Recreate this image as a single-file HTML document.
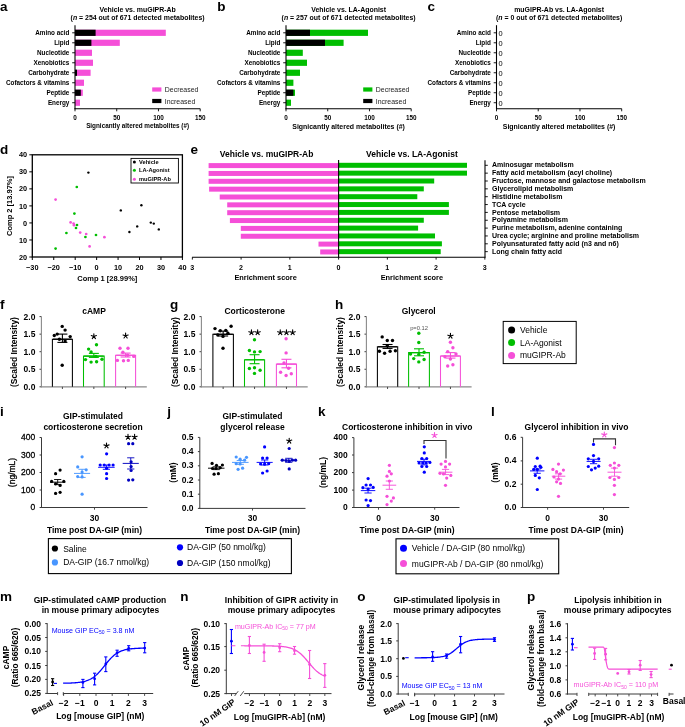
<!DOCTYPE html>
<html><head><meta charset="utf-8"><style>
html,body{margin:0;padding:0;background:#fff;}
body{width:685px;height:727px;overflow:hidden;}
svg{display:block;font-family:"Liberation Sans", sans-serif;filter:blur(0.35px);}
</style></head><body>
<svg width="685" height="727" viewBox="0 0 685 727">
<rect x="0" y="0" width="685" height="727" fill="#fff"/>
<text x="0.00" y="10.80" font-size="13.5" font-weight="bold">a</text>
<text x="137.60" y="11.80" font-size="6.95" font-weight="bold" text-anchor="middle" fill="#000" >Vehicle vs. muGIPR-Ab</text>
<text x="137.60" y="20.00" font-size="6.95" font-weight="bold" text-anchor="middle" fill="#000" >(<tspan font-style="italic">n</tspan> = 254 out of 671 detected metabolites)</text>
<text x="69.40" y="35.09" font-size="6.35" font-weight="bold" text-anchor="end" fill="#000" >Amino acid</text>
<line x1="72.20" y1="32.80" x2="75.00" y2="32.80" stroke="#000" stroke-width="0.9" />
<rect x="75.00" y="29.70" width="90.80" height="6.20" fill="#f54fd8" stroke="none" stroke-width="0"/>
<rect x="75.00" y="29.70" width="20.60" height="6.20" fill="#000" stroke="none" stroke-width="0"/>
<text x="69.40" y="45.08" font-size="6.35" font-weight="bold" text-anchor="end" fill="#000" >Lipid</text>
<line x1="72.20" y1="42.79" x2="75.00" y2="42.79" stroke="#000" stroke-width="0.9" />
<rect x="75.00" y="39.69" width="44.80" height="6.20" fill="#f54fd8" stroke="none" stroke-width="0"/>
<rect x="75.00" y="39.69" width="16.40" height="6.20" fill="#000" stroke="none" stroke-width="0"/>
<text x="69.40" y="55.07" font-size="6.35" font-weight="bold" text-anchor="end" fill="#000" >Nucleotide</text>
<line x1="72.20" y1="52.78" x2="75.00" y2="52.78" stroke="#000" stroke-width="0.9" />
<rect x="75.00" y="49.68" width="17.00" height="6.20" fill="#f54fd8" stroke="none" stroke-width="0"/>
<text x="69.40" y="65.06" font-size="6.35" font-weight="bold" text-anchor="end" fill="#000" >Xenobiotics</text>
<line x1="72.20" y1="62.77" x2="75.00" y2="62.77" stroke="#000" stroke-width="0.9" />
<rect x="75.00" y="59.67" width="18.00" height="6.20" fill="#f54fd8" stroke="none" stroke-width="0"/>
<text x="69.40" y="75.05" font-size="6.35" font-weight="bold" text-anchor="end" fill="#000" >Carbohydrate</text>
<line x1="72.20" y1="72.76" x2="75.00" y2="72.76" stroke="#000" stroke-width="0.9" />
<rect x="75.00" y="69.66" width="15.60" height="6.20" fill="#f54fd8" stroke="none" stroke-width="0"/>
<rect x="75.00" y="69.66" width="2.00" height="6.20" fill="#000" stroke="none" stroke-width="0"/>
<text x="69.40" y="85.04" font-size="6.35" font-weight="bold" text-anchor="end" fill="#000" >Cofactors &amp; vitamins</text>
<line x1="72.20" y1="82.75" x2="75.00" y2="82.75" stroke="#000" stroke-width="0.9" />
<rect x="75.00" y="79.65" width="9.00" height="6.20" fill="#f54fd8" stroke="none" stroke-width="0"/>
<text x="69.40" y="95.03" font-size="6.35" font-weight="bold" text-anchor="end" fill="#000" >Peptide</text>
<line x1="72.20" y1="92.74" x2="75.00" y2="92.74" stroke="#000" stroke-width="0.9" />
<rect x="75.00" y="89.64" width="7.80" height="6.20" fill="#f54fd8" stroke="none" stroke-width="0"/>
<rect x="75.00" y="89.64" width="5.80" height="6.20" fill="#000" stroke="none" stroke-width="0"/>
<text x="69.40" y="105.02" font-size="6.35" font-weight="bold" text-anchor="end" fill="#000" >Energy</text>
<line x1="72.20" y1="102.73" x2="75.00" y2="102.73" stroke="#000" stroke-width="0.9" />
<rect x="75.00" y="99.63" width="5.00" height="6.20" fill="#f54fd8" stroke="none" stroke-width="0"/>
<line x1="75.00" y1="25.20" x2="75.00" y2="109.20" stroke="#000" stroke-width="1.1" />
<line x1="74.50" y1="108.70" x2="200.20" y2="108.70" stroke="#000" stroke-width="1.1" />
<line x1="75.00" y1="108.70" x2="75.00" y2="111.30" stroke="#000" stroke-width="0.9" />
<text x="75.00" y="119.69" font-size="6.35" font-weight="bold" text-anchor="middle" fill="#000" >0</text>
<line x1="116.73" y1="108.70" x2="116.73" y2="111.30" stroke="#000" stroke-width="0.9" />
<text x="116.73" y="119.69" font-size="6.35" font-weight="bold" text-anchor="middle" fill="#000" >50</text>
<line x1="158.47" y1="108.70" x2="158.47" y2="111.30" stroke="#000" stroke-width="0.9" />
<text x="158.47" y="119.69" font-size="6.35" font-weight="bold" text-anchor="middle" fill="#000" >100</text>
<line x1="200.20" y1="108.70" x2="200.20" y2="111.30" stroke="#000" stroke-width="0.9" />
<text x="200.20" y="119.69" font-size="6.35" font-weight="bold" text-anchor="middle" fill="#000" >150</text>
<text x="137.60" y="128.29" font-size="6.35" font-weight="bold" text-anchor="middle" fill="#000" >Signicantly altered metabolites (#)</text>
<rect x="152.20" y="87.40" width="9.20" height="4.20" fill="#f54fd8" stroke="none" stroke-width="0"/>
<text x="164.80" y="92.10" font-size="6.95" font-weight="normal" text-anchor="start" fill="#222" >Decreased</text>
<rect x="152.20" y="98.90" width="9.20" height="4.20" fill="#000" stroke="none" stroke-width="0"/>
<text x="164.80" y="103.60" font-size="6.95" font-weight="normal" text-anchor="start" fill="#222" >Increased</text>
<text x="217.20" y="10.80" font-size="13.5" font-weight="bold">b</text>
<text x="348.60" y="11.80" font-size="6.95" font-weight="bold" text-anchor="middle" fill="#000" >Vehicle vs. LA-Agonist</text>
<text x="348.60" y="20.00" font-size="6.95" font-weight="bold" text-anchor="middle" fill="#000" >(<tspan font-style="italic">n</tspan> = 257 out of 671 detected metabolites)</text>
<text x="280.40" y="35.09" font-size="6.35" font-weight="bold" text-anchor="end" fill="#000" >Amino acid</text>
<line x1="283.20" y1="32.80" x2="286.00" y2="32.80" stroke="#000" stroke-width="0.9" />
<rect x="286.00" y="29.70" width="82.00" height="6.20" fill="#00be00" stroke="none" stroke-width="0"/>
<rect x="286.00" y="29.70" width="24.00" height="6.20" fill="#000" stroke="none" stroke-width="0"/>
<text x="280.40" y="45.08" font-size="6.35" font-weight="bold" text-anchor="end" fill="#000" >Lipid</text>
<line x1="283.20" y1="42.79" x2="286.00" y2="42.79" stroke="#000" stroke-width="0.9" />
<rect x="286.00" y="39.69" width="57.60" height="6.20" fill="#00be00" stroke="none" stroke-width="0"/>
<rect x="286.00" y="39.69" width="39.00" height="6.20" fill="#000" stroke="none" stroke-width="0"/>
<text x="280.40" y="55.07" font-size="6.35" font-weight="bold" text-anchor="end" fill="#000" >Nucleotide</text>
<line x1="283.20" y1="52.78" x2="286.00" y2="52.78" stroke="#000" stroke-width="0.9" />
<rect x="286.00" y="49.68" width="16.80" height="6.20" fill="#00be00" stroke="none" stroke-width="0"/>
<text x="280.40" y="65.06" font-size="6.35" font-weight="bold" text-anchor="end" fill="#000" >Xenobiotics</text>
<line x1="283.20" y1="62.77" x2="286.00" y2="62.77" stroke="#000" stroke-width="0.9" />
<rect x="286.00" y="59.67" width="21.00" height="6.20" fill="#00be00" stroke="none" stroke-width="0"/>
<text x="280.40" y="75.05" font-size="6.35" font-weight="bold" text-anchor="end" fill="#000" >Carbohydrate</text>
<line x1="283.20" y1="72.76" x2="286.00" y2="72.76" stroke="#000" stroke-width="0.9" />
<rect x="286.00" y="69.66" width="14.00" height="6.20" fill="#00be00" stroke="none" stroke-width="0"/>
<text x="280.40" y="85.04" font-size="6.35" font-weight="bold" text-anchor="end" fill="#000" >Cofactors &amp; vitamins</text>
<line x1="283.20" y1="82.75" x2="286.00" y2="82.75" stroke="#000" stroke-width="0.9" />
<rect x="286.00" y="79.65" width="7.40" height="6.20" fill="#00be00" stroke="none" stroke-width="0"/>
<text x="280.40" y="95.03" font-size="6.35" font-weight="bold" text-anchor="end" fill="#000" >Peptide</text>
<line x1="283.20" y1="92.74" x2="286.00" y2="92.74" stroke="#000" stroke-width="0.9" />
<rect x="286.00" y="89.64" width="9.00" height="6.20" fill="#00be00" stroke="none" stroke-width="0"/>
<rect x="286.00" y="89.64" width="7.40" height="6.20" fill="#000" stroke="none" stroke-width="0"/>
<text x="280.40" y="105.02" font-size="6.35" font-weight="bold" text-anchor="end" fill="#000" >Energy</text>
<line x1="283.20" y1="102.73" x2="286.00" y2="102.73" stroke="#000" stroke-width="0.9" />
<rect x="286.00" y="99.63" width="5.00" height="6.20" fill="#00be00" stroke="none" stroke-width="0"/>
<line x1="286.00" y1="25.20" x2="286.00" y2="109.20" stroke="#000" stroke-width="1.1" />
<line x1="285.50" y1="108.70" x2="411.20" y2="108.70" stroke="#000" stroke-width="1.1" />
<line x1="286.00" y1="108.70" x2="286.00" y2="111.30" stroke="#000" stroke-width="0.9" />
<text x="286.00" y="119.69" font-size="6.35" font-weight="bold" text-anchor="middle" fill="#000" >0</text>
<line x1="327.73" y1="108.70" x2="327.73" y2="111.30" stroke="#000" stroke-width="0.9" />
<text x="327.73" y="119.69" font-size="6.35" font-weight="bold" text-anchor="middle" fill="#000" >50</text>
<line x1="369.47" y1="108.70" x2="369.47" y2="111.30" stroke="#000" stroke-width="0.9" />
<text x="369.47" y="119.69" font-size="6.35" font-weight="bold" text-anchor="middle" fill="#000" >100</text>
<line x1="411.20" y1="108.70" x2="411.20" y2="111.30" stroke="#000" stroke-width="0.9" />
<text x="411.20" y="119.69" font-size="6.35" font-weight="bold" text-anchor="middle" fill="#000" >150</text>
<text x="348.60" y="128.50" font-size="6.95" font-weight="bold" text-anchor="middle" fill="#000" >Signicantly altered metabolites (#)</text>
<rect x="363.20" y="87.40" width="9.20" height="4.20" fill="#00be00" stroke="none" stroke-width="0"/>
<text x="375.80" y="92.10" font-size="6.95" font-weight="normal" text-anchor="start" fill="#222" >Decreased</text>
<rect x="363.20" y="98.90" width="9.20" height="4.20" fill="#000" stroke="none" stroke-width="0"/>
<text x="375.80" y="103.60" font-size="6.95" font-weight="normal" text-anchor="start" fill="#222" >Increased</text>
<text x="427.40" y="10.80" font-size="13.5" font-weight="bold">c</text>
<text x="559.10" y="11.80" font-size="6.95" font-weight="bold" text-anchor="middle" fill="#000" >muGIPR-Ab vs. LA-Agonist</text>
<text x="559.10" y="20.00" font-size="6.95" font-weight="bold" text-anchor="middle" fill="#000" >(<tspan font-style="italic">n</tspan> = 0 out of 671 detected metabolites)</text>
<text x="490.90" y="35.09" font-size="6.35" font-weight="bold" text-anchor="end" fill="#000" >Amino acid</text>
<line x1="493.70" y1="32.80" x2="496.50" y2="32.80" stroke="#000" stroke-width="0.9" />
<text x="498.50" y="36.06" font-size="7.4" font-weight="normal" text-anchor="start" fill="#000" >0</text>
<text x="490.90" y="45.08" font-size="6.35" font-weight="bold" text-anchor="end" fill="#000" >Lipid</text>
<line x1="493.70" y1="42.79" x2="496.50" y2="42.79" stroke="#000" stroke-width="0.9" />
<text x="498.50" y="46.05" font-size="7.4" font-weight="normal" text-anchor="start" fill="#000" >0</text>
<text x="490.90" y="55.07" font-size="6.35" font-weight="bold" text-anchor="end" fill="#000" >Nucleotide</text>
<line x1="493.70" y1="52.78" x2="496.50" y2="52.78" stroke="#000" stroke-width="0.9" />
<text x="498.50" y="56.04" font-size="7.4" font-weight="normal" text-anchor="start" fill="#000" >0</text>
<text x="490.90" y="65.06" font-size="6.35" font-weight="bold" text-anchor="end" fill="#000" >Xenobiotics</text>
<line x1="493.70" y1="62.77" x2="496.50" y2="62.77" stroke="#000" stroke-width="0.9" />
<text x="498.50" y="66.03" font-size="7.4" font-weight="normal" text-anchor="start" fill="#000" >0</text>
<text x="490.90" y="75.05" font-size="6.35" font-weight="bold" text-anchor="end" fill="#000" >Carbohydrate</text>
<line x1="493.70" y1="72.76" x2="496.50" y2="72.76" stroke="#000" stroke-width="0.9" />
<text x="498.50" y="76.02" font-size="7.4" font-weight="normal" text-anchor="start" fill="#000" >0</text>
<text x="490.90" y="85.04" font-size="6.35" font-weight="bold" text-anchor="end" fill="#000" >Cofactors &amp; vitamins</text>
<line x1="493.70" y1="82.75" x2="496.50" y2="82.75" stroke="#000" stroke-width="0.9" />
<text x="498.50" y="86.01" font-size="7.4" font-weight="normal" text-anchor="start" fill="#000" >0</text>
<text x="490.90" y="95.03" font-size="6.35" font-weight="bold" text-anchor="end" fill="#000" >Peptide</text>
<line x1="493.70" y1="92.74" x2="496.50" y2="92.74" stroke="#000" stroke-width="0.9" />
<text x="498.50" y="96.00" font-size="7.4" font-weight="normal" text-anchor="start" fill="#000" >0</text>
<text x="490.90" y="105.02" font-size="6.35" font-weight="bold" text-anchor="end" fill="#000" >Energy</text>
<line x1="493.70" y1="102.73" x2="496.50" y2="102.73" stroke="#000" stroke-width="0.9" />
<text x="498.50" y="105.99" font-size="7.4" font-weight="normal" text-anchor="start" fill="#000" >0</text>
<line x1="496.50" y1="25.20" x2="496.50" y2="109.20" stroke="#000" stroke-width="1.1" />
<line x1="496.00" y1="108.70" x2="621.70" y2="108.70" stroke="#000" stroke-width="1.1" />
<line x1="496.50" y1="108.70" x2="496.50" y2="111.30" stroke="#000" stroke-width="0.9" />
<text x="496.50" y="119.69" font-size="6.35" font-weight="bold" text-anchor="middle" fill="#000" >0</text>
<line x1="538.23" y1="108.70" x2="538.23" y2="111.30" stroke="#000" stroke-width="0.9" />
<text x="538.23" y="119.69" font-size="6.35" font-weight="bold" text-anchor="middle" fill="#000" >50</text>
<line x1="579.97" y1="108.70" x2="579.97" y2="111.30" stroke="#000" stroke-width="0.9" />
<text x="579.97" y="119.69" font-size="6.35" font-weight="bold" text-anchor="middle" fill="#000" >100</text>
<line x1="621.70" y1="108.70" x2="621.70" y2="111.30" stroke="#000" stroke-width="0.9" />
<text x="621.70" y="119.69" font-size="6.35" font-weight="bold" text-anchor="middle" fill="#000" >150</text>
<text x="559.10" y="128.50" font-size="6.95" font-weight="bold" text-anchor="middle" fill="#000" >Signicantly altered metabolites (#)</text>
<text x="0.00" y="154.30" font-size="13.5" font-weight="bold">d</text>
<rect x="32.3" y="154.8" width="150.10" height="102.20" fill="none" stroke="#000" stroke-width="1.3"/>
<line x1="29.30" y1="154.80" x2="32.30" y2="154.80" stroke="#000" stroke-width="1" />
<text x="27.00" y="157.43" font-size="7.3" font-weight="bold" text-anchor="end" fill="#000" >40</text>
<line x1="29.30" y1="171.83" x2="32.30" y2="171.83" stroke="#000" stroke-width="1" />
<text x="27.00" y="174.46" font-size="7.3" font-weight="bold" text-anchor="end" fill="#000" >30</text>
<line x1="29.30" y1="188.87" x2="32.30" y2="188.87" stroke="#000" stroke-width="1" />
<text x="27.00" y="191.49" font-size="7.3" font-weight="bold" text-anchor="end" fill="#000" >20</text>
<line x1="29.30" y1="205.90" x2="32.30" y2="205.90" stroke="#000" stroke-width="1" />
<text x="27.00" y="208.53" font-size="7.3" font-weight="bold" text-anchor="end" fill="#000" >10</text>
<line x1="29.30" y1="222.93" x2="32.30" y2="222.93" stroke="#000" stroke-width="1" />
<text x="27.00" y="225.56" font-size="7.3" font-weight="bold" text-anchor="end" fill="#000" >0</text>
<line x1="29.30" y1="239.97" x2="32.30" y2="239.97" stroke="#000" stroke-width="1" />
<text x="27.00" y="242.59" font-size="7.3" font-weight="bold" text-anchor="end" fill="#000" >10</text>
<line x1="29.30" y1="257.00" x2="32.30" y2="257.00" stroke="#000" stroke-width="1" />
<text x="27.00" y="259.63" font-size="7.3" font-weight="bold" text-anchor="end" fill="#000" >20</text>
<line x1="32.30" y1="257.00" x2="32.30" y2="260.00" stroke="#000" stroke-width="1" />
<text x="32.30" y="269.63" font-size="7.3" font-weight="bold" text-anchor="middle" fill="#000" >&#8722;30</text>
<line x1="53.74" y1="257.00" x2="53.74" y2="260.00" stroke="#000" stroke-width="1" />
<text x="53.74" y="269.63" font-size="7.3" font-weight="bold" text-anchor="middle" fill="#000" >&#8722;20</text>
<line x1="75.19" y1="257.00" x2="75.19" y2="260.00" stroke="#000" stroke-width="1" />
<text x="75.19" y="269.63" font-size="7.3" font-weight="bold" text-anchor="middle" fill="#000" >&#8722;10</text>
<line x1="96.63" y1="257.00" x2="96.63" y2="260.00" stroke="#000" stroke-width="1" />
<text x="96.63" y="269.63" font-size="7.3" font-weight="bold" text-anchor="middle" fill="#000" >0</text>
<line x1="118.07" y1="257.00" x2="118.07" y2="260.00" stroke="#000" stroke-width="1" />
<text x="118.07" y="269.63" font-size="7.3" font-weight="bold" text-anchor="middle" fill="#000" >10</text>
<line x1="139.51" y1="257.00" x2="139.51" y2="260.00" stroke="#000" stroke-width="1" />
<text x="139.51" y="269.63" font-size="7.3" font-weight="bold" text-anchor="middle" fill="#000" >20</text>
<line x1="160.96" y1="257.00" x2="160.96" y2="260.00" stroke="#000" stroke-width="1" />
<text x="160.96" y="269.63" font-size="7.3" font-weight="bold" text-anchor="middle" fill="#000" >30</text>
<line x1="182.40" y1="257.00" x2="182.40" y2="260.00" stroke="#000" stroke-width="1" />
<text x="182.40" y="269.63" font-size="7.3" font-weight="bold" text-anchor="middle" fill="#000" >40</text>
<text x="107.30" y="281.30" font-size="7.5" font-weight="bold" text-anchor="middle" fill="#000" >Comp 1 [28.99%]</text>
<text transform="translate(9.30,206.00) rotate(-90)" x="0" y="2.70" font-size="7.5" font-weight="bold" text-anchor="middle" fill="#000">Comp 2 [13.97%]</text>
<circle cx="76.80" cy="187.00" r="1.35" fill="#00be00"/>
<circle cx="74.40" cy="213.60" r="1.35" fill="#00be00"/>
<circle cx="77.00" cy="225.00" r="1.35" fill="#00be00"/>
<circle cx="76.00" cy="228.00" r="1.35" fill="#00be00"/>
<circle cx="66.40" cy="233.00" r="1.35" fill="#00be00"/>
<circle cx="85.40" cy="237.00" r="1.35" fill="#00be00"/>
<circle cx="96.00" cy="235.00" r="1.35" fill="#00be00"/>
<circle cx="55.60" cy="248.60" r="1.35" fill="#00be00"/>
<circle cx="55.60" cy="199.60" r="1.35" fill="#f54fd8"/>
<circle cx="70.60" cy="222.40" r="1.35" fill="#f54fd8"/>
<circle cx="73.60" cy="223.60" r="1.35" fill="#f54fd8"/>
<circle cx="74.00" cy="225.20" r="1.35" fill="#f54fd8"/>
<circle cx="80.20" cy="232.60" r="1.35" fill="#f54fd8"/>
<circle cx="86.20" cy="234.00" r="1.35" fill="#f54fd8"/>
<circle cx="104.40" cy="237.20" r="1.35" fill="#f54fd8"/>
<circle cx="89.60" cy="246.40" r="1.35" fill="#f54fd8"/>
<circle cx="88.40" cy="172.60" r="1.2" fill="#000"/>
<circle cx="120.80" cy="210.40" r="1.2" fill="#000"/>
<circle cx="141.40" cy="205.20" r="1.2" fill="#000"/>
<circle cx="150.80" cy="222.60" r="1.2" fill="#000"/>
<circle cx="153.80" cy="223.60" r="1.2" fill="#000"/>
<circle cx="158.80" cy="229.40" r="1.2" fill="#000"/>
<circle cx="137.20" cy="226.40" r="1.2" fill="#000"/>
<circle cx="129.40" cy="232.00" r="1.2" fill="#000"/>
<rect x="131" y="158.4" width="47.4" height="24.6" fill="#fff" stroke="#000" stroke-width="0.9"/>
<circle cx="134.40" cy="162.00" r="1.5" fill="#000"/>
<text x="139.00" y="164.05" font-size="5.7" font-weight="bold" text-anchor="start" fill="#000" >Vehicle</text>
<circle cx="134.40" cy="170.20" r="1.5" fill="#00be00"/>
<text x="139.00" y="172.25" font-size="5.7" font-weight="bold" text-anchor="start" fill="#000" >LA-Agonist</text>
<circle cx="134.40" cy="179.20" r="1.5" fill="#f54fd8"/>
<text x="139.00" y="181.25" font-size="5.7" font-weight="bold" text-anchor="start" fill="#000" >muGIPR-Ab</text>
<text x="190.40" y="154.40" font-size="13.5" font-weight="bold">e</text>
<text x="266.60" y="157.16" font-size="8.5" font-weight="bold" text-anchor="middle" fill="#000" >Vehicle vs. muGIPR-Ab</text>
<text x="411.90" y="157.16" font-size="8.5" font-weight="bold" text-anchor="middle" fill="#000" >Vehicle vs. LA-Agonist</text>
<rect x="208.60" y="163.10" width="130.00" height="5.00" fill="#f54fd8" stroke="none" stroke-width="0"/>
<rect x="338.60" y="162.80" width="128.40" height="5.00" fill="#00be00" stroke="none" stroke-width="0"/>
<line x1="485.00" y1="165.30" x2="487.80" y2="165.30" stroke="#000" stroke-width="0.9" />
<text x="492.00" y="167.42" font-size="7.0" font-weight="bold" text-anchor="start" fill="#000" >Aminosugar metabolism</text>
<rect x="208.60" y="170.95" width="130.00" height="5.00" fill="#f54fd8" stroke="none" stroke-width="0"/>
<rect x="338.60" y="170.65" width="128.40" height="5.00" fill="#00be00" stroke="none" stroke-width="0"/>
<line x1="485.00" y1="173.15" x2="487.80" y2="173.15" stroke="#000" stroke-width="0.9" />
<text x="492.00" y="175.27" font-size="7.0" font-weight="bold" text-anchor="start" fill="#000" >Fatty acid metabolism (acyl choline)</text>
<rect x="208.60" y="178.80" width="130.00" height="5.00" fill="#f54fd8" stroke="none" stroke-width="0"/>
<rect x="338.60" y="178.50" width="95.60" height="5.00" fill="#00be00" stroke="none" stroke-width="0"/>
<line x1="485.00" y1="181.00" x2="487.80" y2="181.00" stroke="#000" stroke-width="0.9" />
<text x="492.00" y="183.12" font-size="7.0" font-weight="bold" text-anchor="start" fill="#000" >Fructose, mannose and galactose metabolism</text>
<rect x="209.10" y="186.65" width="129.50" height="5.00" fill="#f54fd8" stroke="none" stroke-width="0"/>
<rect x="338.60" y="186.35" width="85.20" height="5.00" fill="#00be00" stroke="none" stroke-width="0"/>
<line x1="485.00" y1="188.85" x2="487.80" y2="188.85" stroke="#000" stroke-width="0.9" />
<text x="492.00" y="190.97" font-size="7.0" font-weight="bold" text-anchor="start" fill="#000" >Glycerolipid metabolism</text>
<rect x="219.70" y="194.50" width="118.90" height="5.00" fill="#f54fd8" stroke="none" stroke-width="0"/>
<rect x="338.60" y="194.20" width="78.70" height="5.00" fill="#00be00" stroke="none" stroke-width="0"/>
<line x1="485.00" y1="196.70" x2="487.80" y2="196.70" stroke="#000" stroke-width="0.9" />
<text x="492.00" y="198.82" font-size="7.0" font-weight="bold" text-anchor="start" fill="#000" >Histidine metabolism</text>
<rect x="227.20" y="202.35" width="111.40" height="5.00" fill="#f54fd8" stroke="none" stroke-width="0"/>
<rect x="338.60" y="202.05" width="110.30" height="5.00" fill="#00be00" stroke="none" stroke-width="0"/>
<line x1="485.00" y1="204.55" x2="487.80" y2="204.55" stroke="#000" stroke-width="0.9" />
<text x="492.00" y="206.67" font-size="7.0" font-weight="bold" text-anchor="start" fill="#000" >TCA cycle</text>
<rect x="227.20" y="210.20" width="111.40" height="5.00" fill="#f54fd8" stroke="none" stroke-width="0"/>
<rect x="338.60" y="209.90" width="110.30" height="5.00" fill="#00be00" stroke="none" stroke-width="0"/>
<line x1="485.00" y1="212.40" x2="487.80" y2="212.40" stroke="#000" stroke-width="0.9" />
<text x="492.00" y="214.52" font-size="7.0" font-weight="bold" text-anchor="start" fill="#000" >Pentose metabolism</text>
<rect x="229.90" y="218.05" width="108.70" height="5.00" fill="#f54fd8" stroke="none" stroke-width="0"/>
<rect x="338.60" y="217.75" width="85.20" height="5.00" fill="#00be00" stroke="none" stroke-width="0"/>
<line x1="485.00" y1="220.25" x2="487.80" y2="220.25" stroke="#000" stroke-width="0.9" />
<text x="492.00" y="222.37" font-size="7.0" font-weight="bold" text-anchor="start" fill="#000" >Polyamine metabolism</text>
<rect x="240.80" y="225.90" width="97.80" height="5.00" fill="#f54fd8" stroke="none" stroke-width="0"/>
<rect x="338.60" y="225.60" width="79.50" height="5.00" fill="#00be00" stroke="none" stroke-width="0"/>
<line x1="485.00" y1="228.10" x2="487.80" y2="228.10" stroke="#000" stroke-width="0.9" />
<text x="492.00" y="230.22" font-size="7.0" font-weight="bold" text-anchor="start" fill="#000" >Purine metabolism, adenine containing</text>
<rect x="240.80" y="233.75" width="97.80" height="5.00" fill="#f54fd8" stroke="none" stroke-width="0"/>
<rect x="338.60" y="233.45" width="96.40" height="5.00" fill="#00be00" stroke="none" stroke-width="0"/>
<line x1="485.00" y1="235.95" x2="487.80" y2="235.95" stroke="#000" stroke-width="0.9" />
<text x="492.00" y="238.07" font-size="7.0" font-weight="bold" text-anchor="start" fill="#000" >Urea cycle; arginine and proline metabolism</text>
<rect x="318.50" y="241.60" width="20.10" height="5.00" fill="#f54fd8" stroke="none" stroke-width="0"/>
<rect x="338.60" y="241.30" width="103.30" height="5.00" fill="#00be00" stroke="none" stroke-width="0"/>
<line x1="485.00" y1="243.80" x2="487.80" y2="243.80" stroke="#000" stroke-width="0.9" />
<text x="492.00" y="245.92" font-size="7.0" font-weight="bold" text-anchor="start" fill="#000" >Polyunsaturated fatty acid (n3 and n6)</text>
<rect x="320.20" y="249.45" width="18.40" height="5.00" fill="#f54fd8" stroke="none" stroke-width="0"/>
<rect x="338.60" y="249.15" width="102.10" height="5.00" fill="#00be00" stroke="none" stroke-width="0"/>
<line x1="485.00" y1="251.65" x2="487.80" y2="251.65" stroke="#000" stroke-width="0.9" />
<text x="492.00" y="253.77" font-size="7.0" font-weight="bold" text-anchor="start" fill="#000" >Long chain fatty acid</text>
<line x1="338.60" y1="160.00" x2="338.60" y2="257.60" stroke="#000" stroke-width="1.1" />
<line x1="485.00" y1="160.30" x2="485.00" y2="257.60" stroke="#000" stroke-width="1.1" />
<line x1="192.10" y1="257.30" x2="485.50" y2="257.30" stroke="#000" stroke-width="1.1" />
<line x1="192.35" y1="257.30" x2="192.35" y2="259.60" stroke="#000" stroke-width="0.9" />
<text x="192.35" y="269.76" font-size="7.1" font-weight="bold" text-anchor="middle" fill="#000" >3</text>
<line x1="241.10" y1="257.30" x2="241.10" y2="259.60" stroke="#000" stroke-width="0.9" />
<text x="241.10" y="269.76" font-size="7.1" font-weight="bold" text-anchor="middle" fill="#000" >2</text>
<line x1="289.85" y1="257.30" x2="289.85" y2="259.60" stroke="#000" stroke-width="0.9" />
<text x="289.85" y="269.76" font-size="7.1" font-weight="bold" text-anchor="middle" fill="#000" >1</text>
<line x1="338.60" y1="257.30" x2="338.60" y2="259.60" stroke="#000" stroke-width="0.9" />
<text x="338.60" y="269.76" font-size="7.1" font-weight="bold" text-anchor="middle" fill="#000" >0</text>
<line x1="387.35" y1="257.30" x2="387.35" y2="259.60" stroke="#000" stroke-width="0.9" />
<text x="387.35" y="269.76" font-size="7.1" font-weight="bold" text-anchor="middle" fill="#000" >1</text>
<line x1="436.10" y1="257.30" x2="436.10" y2="259.60" stroke="#000" stroke-width="0.9" />
<text x="436.10" y="269.76" font-size="7.1" font-weight="bold" text-anchor="middle" fill="#000" >2</text>
<line x1="484.85" y1="257.30" x2="484.85" y2="259.60" stroke="#000" stroke-width="0.9" />
<text x="484.85" y="269.76" font-size="7.1" font-weight="bold" text-anchor="middle" fill="#000" >3</text>
<text x="265.60" y="280.06" font-size="7.4" font-weight="bold" text-anchor="middle" fill="#000" >Enrichment score</text>
<text x="411.90" y="280.06" font-size="7.4" font-weight="bold" text-anchor="middle" fill="#000" >Enrichment score</text>
<text x="0.00" y="309.00" font-size="13.5" font-weight="bold">f</text>
<text x="94.00" y="313.66" font-size="8.5" font-weight="bold" text-anchor="middle" fill="#000" >cAMP</text>
<text transform="translate(14.00,352.00) rotate(-90)" x="0" y="3.04" font-size="8.45" font-weight="bold" text-anchor="middle" fill="#000">(Scaled Intensity)</text>
<line x1="39.50" y1="386.80" x2="41.40" y2="386.80" stroke="#3a3a3a" stroke-width="1" />
<text x="35.40" y="389.76" font-size="8.5" font-weight="bold" text-anchor="end" fill="#000" >0.0</text>
<line x1="39.50" y1="369.25" x2="41.40" y2="369.25" stroke="#3a3a3a" stroke-width="1" />
<text x="35.40" y="372.21" font-size="8.5" font-weight="bold" text-anchor="end" fill="#000" >0.5</text>
<line x1="39.50" y1="351.70" x2="41.40" y2="351.70" stroke="#3a3a3a" stroke-width="1" />
<text x="35.40" y="354.66" font-size="8.5" font-weight="bold" text-anchor="end" fill="#000" >1.0</text>
<line x1="39.50" y1="334.15" x2="41.40" y2="334.15" stroke="#3a3a3a" stroke-width="1" />
<text x="35.40" y="337.11" font-size="8.5" font-weight="bold" text-anchor="end" fill="#000" >1.5</text>
<line x1="39.50" y1="316.60" x2="41.40" y2="316.60" stroke="#3a3a3a" stroke-width="1" />
<text x="35.40" y="319.56" font-size="8.5" font-weight="bold" text-anchor="end" fill="#000" >2.0</text>
<line x1="41.40" y1="316.40" x2="41.40" y2="387.30" stroke="#8a8a8a" stroke-width="1.1" />
<line x1="40.90" y1="386.90" x2="146.80" y2="386.90" stroke="#8a8a8a" stroke-width="1.3" />
<line x1="62.40" y1="386.80" x2="62.40" y2="389.00" stroke="#3a3a3a" stroke-width="0.9" />
<path d="M52.40,386.8 V339.20 H72.40 V386.8" fill="none" stroke="#000" stroke-width="1.05"/>
<circle cx="62.20" cy="326.40" r="1.7" fill="#000"/>
<circle cx="65.10" cy="330.10" r="1.7" fill="#000"/>
<circle cx="57.20" cy="334.10" r="1.7" fill="#000"/>
<circle cx="54.30" cy="335.50" r="1.7" fill="#000"/>
<circle cx="70.20" cy="336.60" r="1.7" fill="#000"/>
<circle cx="59.40" cy="339.20" r="1.7" fill="#000"/>
<circle cx="65.10" cy="341.10" r="1.7" fill="#000"/>
<circle cx="62.20" cy="365.20" r="1.7" fill="#000"/>
<line x1="62.40" y1="334.10" x2="62.40" y2="342.40" stroke="#000" stroke-width="1.1" />
<line x1="57.40" y1="334.10" x2="67.40" y2="334.10" stroke="#000" stroke-width="1.1" />
<line x1="57.40" y1="342.40" x2="67.40" y2="342.40" stroke="#000" stroke-width="1.1" />
<line x1="53.00" y1="339.20" x2="71.80" y2="339.20" stroke="#000" stroke-width="1.2" />
<line x1="93.85" y1="386.80" x2="93.85" y2="389.00" stroke="#3a3a3a" stroke-width="0.9" />
<path d="M83.50,386.8 V356.10 H104.20 V386.8" fill="none" stroke="#00be00" stroke-width="1.05"/>
<circle cx="96.50" cy="344.70" r="1.7" fill="#00be00"/>
<circle cx="88.60" cy="349.10" r="1.7" fill="#00be00"/>
<circle cx="91.10" cy="352.00" r="1.7" fill="#00be00"/>
<circle cx="95.90" cy="356.40" r="1.7" fill="#00be00"/>
<circle cx="85.50" cy="359.60" r="1.7" fill="#00be00"/>
<circle cx="102.00" cy="359.30" r="1.7" fill="#00be00"/>
<circle cx="91.10" cy="362.10" r="1.7" fill="#00be00"/>
<circle cx="96.60" cy="361.80" r="1.7" fill="#00be00"/>
<line x1="93.85" y1="353.40" x2="93.85" y2="357.40" stroke="#00be00" stroke-width="1.1" />
<line x1="88.85" y1="353.40" x2="98.85" y2="353.40" stroke="#00be00" stroke-width="1.1" />
<line x1="88.85" y1="357.40" x2="98.85" y2="357.40" stroke="#00be00" stroke-width="1.1" />
<line x1="84.10" y1="356.10" x2="103.60" y2="356.10" stroke="#00be00" stroke-width="1.2" />
<path d="M93.85,336.40 L93.85,333.70 M93.85,336.40 L96.42,335.57 M93.85,336.40 L95.44,338.58 M93.85,336.40 L92.26,338.58 M93.85,336.40 L91.28,335.57 " stroke="#000" stroke-width="1.1" stroke-linecap="round" fill="none"/>
<line x1="125.60" y1="386.80" x2="125.60" y2="389.00" stroke="#3a3a3a" stroke-width="0.9" />
<path d="M115.60,386.8 V355.30 H135.60 V386.8" fill="none" stroke="#f54fd8" stroke-width="1.05"/>
<circle cx="120.00" cy="348.20" r="1.7" fill="#f54fd8"/>
<circle cx="128.00" cy="348.20" r="1.7" fill="#f54fd8"/>
<circle cx="122.90" cy="352.30" r="1.7" fill="#f54fd8"/>
<circle cx="127.60" cy="355.30" r="1.7" fill="#f54fd8"/>
<circle cx="133.70" cy="356.40" r="1.7" fill="#f54fd8"/>
<circle cx="117.40" cy="360.40" r="1.7" fill="#f54fd8"/>
<circle cx="123.50" cy="360.80" r="1.7" fill="#f54fd8"/>
<circle cx="128.30" cy="360.40" r="1.7" fill="#f54fd8"/>
<line x1="125.60" y1="353.10" x2="125.60" y2="357.00" stroke="#f54fd8" stroke-width="1.1" />
<line x1="120.60" y1="353.10" x2="130.60" y2="353.10" stroke="#f54fd8" stroke-width="1.1" />
<line x1="120.60" y1="357.00" x2="130.60" y2="357.00" stroke="#f54fd8" stroke-width="1.1" />
<line x1="116.20" y1="355.30" x2="135.00" y2="355.30" stroke="#f54fd8" stroke-width="1.2" />
<path d="M125.60,335.80 L125.60,333.10 M125.60,335.80 L128.17,334.97 M125.60,335.80 L127.19,337.98 M125.60,335.80 L124.01,337.98 M125.60,335.80 L123.03,334.97 " stroke="#000" stroke-width="1.1" stroke-linecap="round" fill="none"/>
<text x="170.00" y="308.50" font-size="13.5" font-weight="bold">g</text>
<text x="254.70" y="313.66" font-size="8.5" font-weight="bold" text-anchor="middle" fill="#000" >Corticosterone</text>
<text transform="translate(175.00,352.00) rotate(-90)" x="0" y="3.04" font-size="8.45" font-weight="bold" text-anchor="middle" fill="#000">(Scaled Intensity)</text>
<line x1="199.50" y1="386.80" x2="201.40" y2="386.80" stroke="#3a3a3a" stroke-width="1" />
<text x="195.40" y="389.76" font-size="8.5" font-weight="bold" text-anchor="end" fill="#000" >0.0</text>
<line x1="199.50" y1="369.25" x2="201.40" y2="369.25" stroke="#3a3a3a" stroke-width="1" />
<text x="195.40" y="372.21" font-size="8.5" font-weight="bold" text-anchor="end" fill="#000" >0.5</text>
<line x1="199.50" y1="351.70" x2="201.40" y2="351.70" stroke="#3a3a3a" stroke-width="1" />
<text x="195.40" y="354.66" font-size="8.5" font-weight="bold" text-anchor="end" fill="#000" >1.0</text>
<line x1="199.50" y1="334.15" x2="201.40" y2="334.15" stroke="#3a3a3a" stroke-width="1" />
<text x="195.40" y="337.11" font-size="8.5" font-weight="bold" text-anchor="end" fill="#000" >1.5</text>
<line x1="199.50" y1="316.60" x2="201.40" y2="316.60" stroke="#3a3a3a" stroke-width="1" />
<text x="195.40" y="319.56" font-size="8.5" font-weight="bold" text-anchor="end" fill="#000" >2.0</text>
<line x1="201.40" y1="316.40" x2="201.40" y2="387.30" stroke="#8a8a8a" stroke-width="1.1" />
<line x1="200.90" y1="386.90" x2="307.70" y2="386.90" stroke="#8a8a8a" stroke-width="1.3" />
<line x1="223.15" y1="386.80" x2="223.15" y2="389.00" stroke="#3a3a3a" stroke-width="0.9" />
<path d="M212.90,386.8 V334.30 H233.40 V386.8" fill="none" stroke="#000" stroke-width="1.05"/>
<circle cx="215.00" cy="328.60" r="1.7" fill="#000"/>
<circle cx="231.10" cy="326.20" r="1.7" fill="#000"/>
<circle cx="220.30" cy="330.80" r="1.7" fill="#000"/>
<circle cx="225.80" cy="330.40" r="1.7" fill="#000"/>
<circle cx="217.80" cy="335.00" r="1.7" fill="#000"/>
<circle cx="223.00" cy="336.40" r="1.7" fill="#000"/>
<circle cx="227.90" cy="333.20" r="1.7" fill="#000"/>
<circle cx="223.00" cy="348.20" r="1.7" fill="#000"/>
<line x1="223.15" y1="331.10" x2="223.15" y2="336.00" stroke="#000" stroke-width="1.1" />
<line x1="218.15" y1="331.10" x2="228.15" y2="331.10" stroke="#000" stroke-width="1.1" />
<line x1="218.15" y1="336.00" x2="228.15" y2="336.00" stroke="#000" stroke-width="1.1" />
<line x1="213.50" y1="334.30" x2="232.80" y2="334.30" stroke="#000" stroke-width="1.2" />
<line x1="254.55" y1="386.80" x2="254.55" y2="389.00" stroke="#3a3a3a" stroke-width="0.9" />
<path d="M244.50,386.8 V359.80 H264.60 V386.8" fill="none" stroke="#00be00" stroke-width="1.05"/>
<circle cx="254.50" cy="339.70" r="1.7" fill="#00be00"/>
<circle cx="249.40" cy="350.50" r="1.7" fill="#00be00"/>
<circle cx="254.50" cy="351.90" r="1.7" fill="#00be00"/>
<circle cx="260.10" cy="351.60" r="1.7" fill="#00be00"/>
<circle cx="249.40" cy="368.50" r="1.7" fill="#00be00"/>
<circle cx="254.50" cy="367.80" r="1.7" fill="#00be00"/>
<circle cx="260.10" cy="370.30" r="1.7" fill="#00be00"/>
<circle cx="254.50" cy="373.40" r="1.7" fill="#00be00"/>
<line x1="254.55" y1="354.70" x2="254.55" y2="363.70" stroke="#00be00" stroke-width="1.1" />
<line x1="249.55" y1="354.70" x2="259.55" y2="354.70" stroke="#00be00" stroke-width="1.1" />
<line x1="249.55" y1="363.70" x2="259.55" y2="363.70" stroke="#00be00" stroke-width="1.1" />
<line x1="245.10" y1="359.80" x2="264.00" y2="359.80" stroke="#00be00" stroke-width="1.2" />
<path d="M251.45,332.50 L251.45,329.80 M251.45,332.50 L254.02,331.67 M251.45,332.50 L253.04,334.68 M251.45,332.50 L249.86,334.68 M251.45,332.50 L248.88,331.67 " stroke="#000" stroke-width="1.1" stroke-linecap="round" fill="none"/>
<path d="M257.65,332.50 L257.65,329.80 M257.65,332.50 L260.22,331.67 M257.65,332.50 L259.24,334.68 M257.65,332.50 L256.06,334.68 M257.65,332.50 L255.08,331.67 " stroke="#000" stroke-width="1.1" stroke-linecap="round" fill="none"/>
<line x1="286.45" y1="386.80" x2="286.45" y2="389.00" stroke="#3a3a3a" stroke-width="0.9" />
<path d="M276.40,386.8 V364.10 H296.50 V386.8" fill="none" stroke="#f54fd8" stroke-width="1.05"/>
<circle cx="286.10" cy="338.70" r="1.7" fill="#f54fd8"/>
<circle cx="286.10" cy="352.90" r="1.7" fill="#f54fd8"/>
<circle cx="284.00" cy="363.00" r="1.7" fill="#f54fd8"/>
<circle cx="288.60" cy="368.30" r="1.7" fill="#f54fd8"/>
<circle cx="280.60" cy="372.30" r="1.7" fill="#f54fd8"/>
<circle cx="291.30" cy="373.70" r="1.7" fill="#f54fd8"/>
<circle cx="286.10" cy="375.50" r="1.7" fill="#f54fd8"/>
<line x1="286.45" y1="359.30" x2="286.45" y2="367.80" stroke="#f54fd8" stroke-width="1.1" />
<line x1="281.45" y1="359.30" x2="291.45" y2="359.30" stroke="#f54fd8" stroke-width="1.1" />
<line x1="281.45" y1="367.80" x2="291.45" y2="367.80" stroke="#f54fd8" stroke-width="1.1" />
<line x1="277.00" y1="364.10" x2="295.90" y2="364.10" stroke="#f54fd8" stroke-width="1.2" />
<path d="M280.25,332.50 L280.25,329.80 M280.25,332.50 L282.82,331.67 M280.25,332.50 L281.84,334.68 M280.25,332.50 L278.66,334.68 M280.25,332.50 L277.68,331.67 " stroke="#000" stroke-width="1.1" stroke-linecap="round" fill="none"/>
<path d="M286.45,332.50 L286.45,329.80 M286.45,332.50 L289.02,331.67 M286.45,332.50 L288.04,334.68 M286.45,332.50 L284.86,334.68 M286.45,332.50 L283.88,331.67 " stroke="#000" stroke-width="1.1" stroke-linecap="round" fill="none"/>
<path d="M292.65,332.50 L292.65,329.80 M292.65,332.50 L295.22,331.67 M292.65,332.50 L294.24,334.68 M292.65,332.50 L291.06,334.68 M292.65,332.50 L290.08,331.67 " stroke="#000" stroke-width="1.1" stroke-linecap="round" fill="none"/>
<text x="335.00" y="309.40" font-size="13.5" font-weight="bold">h</text>
<text x="418.70" y="313.66" font-size="8.5" font-weight="bold" text-anchor="middle" fill="#000" >Glycerol</text>
<text transform="translate(339.60,352.00) rotate(-90)" x="0" y="3.04" font-size="8.45" font-weight="bold" text-anchor="middle" fill="#000">(Scaled Intensity)</text>
<line x1="364.50" y1="386.80" x2="366.40" y2="386.80" stroke="#3a3a3a" stroke-width="1" />
<text x="360.40" y="389.76" font-size="8.5" font-weight="bold" text-anchor="end" fill="#000" >0.0</text>
<line x1="364.50" y1="369.25" x2="366.40" y2="369.25" stroke="#3a3a3a" stroke-width="1" />
<text x="360.40" y="372.21" font-size="8.5" font-weight="bold" text-anchor="end" fill="#000" >0.5</text>
<line x1="364.50" y1="351.70" x2="366.40" y2="351.70" stroke="#3a3a3a" stroke-width="1" />
<text x="360.40" y="354.66" font-size="8.5" font-weight="bold" text-anchor="end" fill="#000" >1.0</text>
<line x1="364.50" y1="334.15" x2="366.40" y2="334.15" stroke="#3a3a3a" stroke-width="1" />
<text x="360.40" y="337.11" font-size="8.5" font-weight="bold" text-anchor="end" fill="#000" >1.5</text>
<line x1="364.50" y1="316.60" x2="366.40" y2="316.60" stroke="#3a3a3a" stroke-width="1" />
<text x="360.40" y="319.56" font-size="8.5" font-weight="bold" text-anchor="end" fill="#000" >2.0</text>
<line x1="366.40" y1="316.40" x2="366.40" y2="387.30" stroke="#8a8a8a" stroke-width="1.1" />
<line x1="365.90" y1="386.90" x2="471.60" y2="386.90" stroke="#8a8a8a" stroke-width="1.3" />
<line x1="387.55" y1="386.80" x2="387.55" y2="389.00" stroke="#3a3a3a" stroke-width="0.9" />
<path d="M377.40,386.8 V346.80 H397.70 V386.8" fill="none" stroke="#000" stroke-width="1.05"/>
<circle cx="382.20" cy="336.90" r="1.7" fill="#000"/>
<circle cx="387.30" cy="340.50" r="1.7" fill="#000"/>
<circle cx="392.50" cy="340.50" r="1.7" fill="#000"/>
<circle cx="387.30" cy="345.70" r="1.7" fill="#000"/>
<circle cx="379.40" cy="351.20" r="1.7" fill="#000"/>
<circle cx="384.60" cy="353.30" r="1.7" fill="#000"/>
<circle cx="390.10" cy="351.20" r="1.7" fill="#000"/>
<circle cx="395.40" cy="350.80" r="1.7" fill="#000"/>
<line x1="387.55" y1="344.50" x2="387.55" y2="348.40" stroke="#000" stroke-width="1.1" />
<line x1="382.55" y1="344.50" x2="392.55" y2="344.50" stroke="#000" stroke-width="1.1" />
<line x1="382.55" y1="348.40" x2="392.55" y2="348.40" stroke="#000" stroke-width="1.1" />
<line x1="378.00" y1="346.80" x2="397.10" y2="346.80" stroke="#000" stroke-width="1.2" />
<line x1="419.00" y1="386.80" x2="419.00" y2="389.00" stroke="#3a3a3a" stroke-width="0.9" />
<path d="M408.60,386.8 V352.60 H429.40 V386.8" fill="none" stroke="#00be00" stroke-width="1.05"/>
<circle cx="418.80" cy="333.20" r="1.7" fill="#00be00"/>
<circle cx="418.80" cy="342.50" r="1.7" fill="#00be00"/>
<circle cx="424.10" cy="352.20" r="1.7" fill="#00be00"/>
<circle cx="410.50" cy="354.00" r="1.7" fill="#00be00"/>
<circle cx="418.80" cy="354.40" r="1.7" fill="#00be00"/>
<circle cx="413.70" cy="358.60" r="1.7" fill="#00be00"/>
<circle cx="424.10" cy="359.50" r="1.7" fill="#00be00"/>
<circle cx="418.80" cy="361.90" r="1.7" fill="#00be00"/>
<line x1="419.00" y1="348.80" x2="419.00" y2="355.80" stroke="#00be00" stroke-width="1.1" />
<line x1="414.00" y1="348.80" x2="424.00" y2="348.80" stroke="#00be00" stroke-width="1.1" />
<line x1="414.00" y1="355.80" x2="424.00" y2="355.80" stroke="#00be00" stroke-width="1.1" />
<line x1="409.20" y1="352.60" x2="428.80" y2="352.60" stroke="#00be00" stroke-width="1.2" />
<line x1="450.45" y1="386.80" x2="450.45" y2="389.00" stroke="#3a3a3a" stroke-width="0.9" />
<path d="M440.50,386.8 V356.00 H460.40 V386.8" fill="none" stroke="#f54fd8" stroke-width="1.05"/>
<circle cx="450.40" cy="342.20" r="1.7" fill="#f54fd8"/>
<circle cx="452.90" cy="347.70" r="1.7" fill="#f54fd8"/>
<circle cx="447.70" cy="351.60" r="1.7" fill="#f54fd8"/>
<circle cx="456.00" cy="354.00" r="1.7" fill="#f54fd8"/>
<circle cx="444.90" cy="356.80" r="1.7" fill="#f54fd8"/>
<circle cx="450.40" cy="359.10" r="1.7" fill="#f54fd8"/>
<circle cx="447.70" cy="366.00" r="1.7" fill="#f54fd8"/>
<circle cx="452.90" cy="364.70" r="1.7" fill="#f54fd8"/>
<line x1="450.45" y1="352.60" x2="450.45" y2="358.10" stroke="#f54fd8" stroke-width="1.1" />
<line x1="445.45" y1="352.60" x2="455.45" y2="352.60" stroke="#f54fd8" stroke-width="1.1" />
<line x1="445.45" y1="358.10" x2="455.45" y2="358.10" stroke="#f54fd8" stroke-width="1.1" />
<line x1="441.10" y1="356.00" x2="459.80" y2="356.00" stroke="#f54fd8" stroke-width="1.2" />
<path d="M450.45,336.00 L450.45,333.30 M450.45,336.00 L453.02,335.17 M450.45,336.00 L452.04,338.18 M450.45,336.00 L448.86,338.18 M450.45,336.00 L447.88,335.17 " stroke="#000" stroke-width="1.1" stroke-linecap="round" fill="none"/>
<text x="419.10" y="330.39" font-size="5.8" font-weight="normal" text-anchor="middle" fill="#555" >p=0.12</text>
<rect x="503.2" y="321.4" width="73" height="42.2" fill="#fff" stroke="#000" stroke-width="1"/>
<circle cx="511.60" cy="330.00" r="3.5" fill="#000"/>
<text x="520.00" y="333.06" font-size="8.5" font-weight="normal" text-anchor="start" fill="#000" >Vehicle</text>
<circle cx="511.60" cy="342.60" r="3.5" fill="#00be00"/>
<text x="520.00" y="345.66" font-size="8.5" font-weight="normal" text-anchor="start" fill="#000" >LA-Agonist</text>
<circle cx="511.60" cy="355.40" r="3.5" fill="#f54fd8"/>
<text x="520.00" y="358.46" font-size="8.5" font-weight="normal" text-anchor="start" fill="#000" >muGIPR-Ab</text>
<text x="0.00" y="416.00" font-size="13.5" font-weight="bold">i</text>
<text x="93.00" y="419.26" font-size="8.5" font-weight="bold" text-anchor="middle" fill="#000" >GIP-stimulated</text>
<text x="93.00" y="429.76" font-size="8.5" font-weight="bold" text-anchor="middle" fill="#000" >corticosterone secretion</text>
<line x1="41.50" y1="437.50" x2="41.50" y2="508.00" stroke="#3a3a3a" stroke-width="1" />
<line x1="41.00" y1="507.50" x2="147.50" y2="507.50" stroke="#3a3a3a" stroke-width="1" />
<line x1="39.60" y1="507.50" x2="41.50" y2="507.50" stroke="#3a3a3a" stroke-width="1" />
<text x="35.30" y="510.06" font-size="8.5" font-weight="normal" text-anchor="end" fill="#000"  stroke="#000" stroke-width="0.28">0</text>
<line x1="39.60" y1="490.00" x2="41.50" y2="490.00" stroke="#3a3a3a" stroke-width="1" />
<text x="35.30" y="492.56" font-size="8.5" font-weight="normal" text-anchor="end" fill="#000"  stroke="#000" stroke-width="0.28">100</text>
<line x1="39.60" y1="472.50" x2="41.50" y2="472.50" stroke="#3a3a3a" stroke-width="1" />
<text x="35.30" y="475.06" font-size="8.5" font-weight="normal" text-anchor="end" fill="#000"  stroke="#000" stroke-width="0.28">200</text>
<line x1="39.60" y1="455.00" x2="41.50" y2="455.00" stroke="#3a3a3a" stroke-width="1" />
<text x="35.30" y="457.56" font-size="8.5" font-weight="normal" text-anchor="end" fill="#000"  stroke="#000" stroke-width="0.28">300</text>
<line x1="39.60" y1="437.50" x2="41.50" y2="437.50" stroke="#3a3a3a" stroke-width="1" />
<text x="35.30" y="440.06" font-size="8.5" font-weight="normal" text-anchor="end" fill="#000"  stroke="#000" stroke-width="0.28">400</text>
<line x1="94.50" y1="507.50" x2="94.50" y2="509.70" stroke="#3a3a3a" stroke-width="0.9" />
<text x="94.50" y="520.66" font-size="8.5" font-weight="bold" text-anchor="middle" fill="#000" >30</text>
<text stroke="#000" stroke-width="0.28" transform="translate(12.00,472.50) rotate(-90)" x="0" y="3.06" font-size="8.5" font-weight="normal" text-anchor="middle" fill="#000">(ng/mL)</text>
<circle cx="60.10" cy="470.10" r="1.6" fill="#000"/>
<circle cx="55.60" cy="473.70" r="1.6" fill="#000"/>
<circle cx="51.60" cy="481.40" r="1.6" fill="#000"/>
<circle cx="63.80" cy="481.40" r="1.6" fill="#000"/>
<circle cx="55.60" cy="483.80" r="1.6" fill="#000"/>
<circle cx="60.10" cy="485.40" r="1.6" fill="#000"/>
<circle cx="55.60" cy="493.40" r="1.6" fill="#000"/>
<circle cx="60.10" cy="492.30" r="1.6" fill="#000"/>
<line x1="50.00" y1="482.20" x2="65.40" y2="482.20" stroke="#000" stroke-width="0.95" />
<line x1="57.70" y1="479.50" x2="57.70" y2="484.60" stroke="#000" stroke-width="0.9" />
<line x1="54.10" y1="479.50" x2="61.30" y2="479.50" stroke="#000" stroke-width="0.9" />
<line x1="54.10" y1="484.60" x2="61.30" y2="484.60" stroke="#000" stroke-width="0.9" />
<circle cx="82.10" cy="456.80" r="1.6" fill="#4896ff"/>
<circle cx="77.70" cy="466.90" r="1.6" fill="#4896ff"/>
<circle cx="86.20" cy="469.80" r="1.6" fill="#4896ff"/>
<circle cx="82.10" cy="472.10" r="1.6" fill="#4896ff"/>
<circle cx="77.70" cy="476.60" r="1.6" fill="#4896ff"/>
<circle cx="82.10" cy="476.90" r="1.6" fill="#4896ff"/>
<circle cx="82.10" cy="494.20" r="1.6" fill="#4896ff"/>
<line x1="74.00" y1="473.40" x2="90.10" y2="473.40" stroke="#4896ff" stroke-width="0.95" />
<line x1="82.05" y1="469.30" x2="82.05" y2="477.40" stroke="#4896ff" stroke-width="0.9" />
<line x1="78.45" y1="469.30" x2="85.65" y2="469.30" stroke="#4896ff" stroke-width="0.9" />
<line x1="78.45" y1="477.40" x2="85.65" y2="477.40" stroke="#4896ff" stroke-width="0.9" />
<circle cx="106.60" cy="453.80" r="1.6" fill="#0000ff"/>
<circle cx="100.20" cy="465.00" r="1.6" fill="#0000ff"/>
<circle cx="104.20" cy="465.00" r="1.6" fill="#0000ff"/>
<circle cx="109.10" cy="465.00" r="1.6" fill="#0000ff"/>
<circle cx="113.10" cy="465.00" r="1.6" fill="#0000ff"/>
<circle cx="106.60" cy="468.20" r="1.6" fill="#0000ff"/>
<circle cx="106.60" cy="473.70" r="1.6" fill="#0000ff"/>
<circle cx="106.60" cy="478.50" r="1.6" fill="#0000ff"/>
<line x1="98.10" y1="467.30" x2="114.70" y2="467.30" stroke="#0000ff" stroke-width="0.95" />
<line x1="106.40" y1="465.00" x2="106.40" y2="469.30" stroke="#0000ff" stroke-width="0.9" />
<line x1="102.80" y1="465.00" x2="110.00" y2="465.00" stroke="#0000ff" stroke-width="0.9" />
<line x1="102.80" y1="469.30" x2="110.00" y2="469.30" stroke="#0000ff" stroke-width="0.9" />
<circle cx="128.60" cy="443.70" r="1.6" fill="#0000c0"/>
<circle cx="132.80" cy="443.70" r="1.6" fill="#0000c0"/>
<circle cx="131.10" cy="461.80" r="1.6" fill="#0000c0"/>
<circle cx="131.10" cy="466.60" r="1.6" fill="#0000c0"/>
<circle cx="131.10" cy="470.50" r="1.6" fill="#0000c0"/>
<circle cx="128.60" cy="480.10" r="1.6" fill="#0000c0"/>
<circle cx="132.80" cy="479.80" r="1.6" fill="#0000c0"/>
<line x1="122.70" y1="463.40" x2="138.80" y2="463.40" stroke="#0000c0" stroke-width="0.95" />
<line x1="130.75" y1="457.80" x2="130.75" y2="469.00" stroke="#0000c0" stroke-width="0.9" />
<line x1="127.15" y1="457.80" x2="134.35" y2="457.80" stroke="#0000c0" stroke-width="0.9" />
<line x1="127.15" y1="469.00" x2="134.35" y2="469.00" stroke="#0000c0" stroke-width="0.9" />
<path d="M106.50,445.70 L106.50,443.00 M106.50,445.70 L109.07,444.87 M106.50,445.70 L108.09,447.88 M106.50,445.70 L104.91,447.88 M106.50,445.70 L103.93,444.87 " stroke="#000" stroke-width="1.1" stroke-linecap="round" fill="none"/>
<path d="M128.00,437.10 L128.00,434.40 M128.00,437.10 L130.57,436.27 M128.00,437.10 L129.59,439.28 M128.00,437.10 L126.41,439.28 M128.00,437.10 L125.43,436.27 " stroke="#000" stroke-width="1.1" stroke-linecap="round" fill="none"/>
<path d="M134.60,437.10 L134.60,434.40 M134.60,437.10 L137.17,436.27 M134.60,437.10 L136.19,439.28 M134.60,437.10 L133.01,439.28 M134.60,437.10 L132.03,436.27 " stroke="#000" stroke-width="1.1" stroke-linecap="round" fill="none"/>
<text x="167.20" y="416.00" font-size="13.5" font-weight="bold">j</text>
<text x="252.50" y="419.26" font-size="8.5" font-weight="bold" text-anchor="middle" fill="#000" >GIP-stimulated</text>
<text x="252.50" y="429.76" font-size="8.5" font-weight="bold" text-anchor="middle" fill="#000" >glycerol release</text>
<line x1="199.80" y1="437.40" x2="199.80" y2="508.90" stroke="#3a3a3a" stroke-width="1" />
<line x1="199.30" y1="508.40" x2="305.50" y2="508.40" stroke="#3a3a3a" stroke-width="1" />
<line x1="197.90" y1="508.40" x2="199.80" y2="508.40" stroke="#3a3a3a" stroke-width="1" />
<text x="193.60" y="510.96" font-size="8.5" font-weight="bold" text-anchor="end" fill="#000" >0.0</text>
<line x1="197.90" y1="494.20" x2="199.80" y2="494.20" stroke="#3a3a3a" stroke-width="1" />
<text x="193.60" y="496.76" font-size="8.5" font-weight="bold" text-anchor="end" fill="#000" >0.1</text>
<line x1="197.90" y1="480.00" x2="199.80" y2="480.00" stroke="#3a3a3a" stroke-width="1" />
<text x="193.60" y="482.56" font-size="8.5" font-weight="bold" text-anchor="end" fill="#000" >0.2</text>
<line x1="197.90" y1="465.80" x2="199.80" y2="465.80" stroke="#3a3a3a" stroke-width="1" />
<text x="193.60" y="468.36" font-size="8.5" font-weight="bold" text-anchor="end" fill="#000" >0.3</text>
<line x1="197.90" y1="451.60" x2="199.80" y2="451.60" stroke="#3a3a3a" stroke-width="1" />
<text x="193.60" y="454.16" font-size="8.5" font-weight="bold" text-anchor="end" fill="#000" >0.4</text>
<line x1="197.90" y1="437.40" x2="199.80" y2="437.40" stroke="#3a3a3a" stroke-width="1" />
<text x="193.60" y="439.96" font-size="8.5" font-weight="bold" text-anchor="end" fill="#000" >0.5</text>
<line x1="252.50" y1="508.40" x2="252.50" y2="510.60" stroke="#3a3a3a" stroke-width="0.9" />
<text x="252.50" y="520.66" font-size="8.5" font-weight="bold" text-anchor="middle" fill="#000" >30</text>
<text transform="translate(172.50,472.50) rotate(-90)" x="0" y="3.06" font-size="8.5" font-weight="bold" text-anchor="middle" fill="#000">(mM)</text>
<circle cx="212.10" cy="463.40" r="1.6" fill="#000"/>
<circle cx="216.50" cy="465.30" r="1.6" fill="#000"/>
<circle cx="222.40" cy="465.00" r="1.6" fill="#000"/>
<circle cx="212.50" cy="468.50" r="1.6" fill="#000"/>
<circle cx="216.00" cy="468.50" r="1.6" fill="#000"/>
<circle cx="220.20" cy="467.70" r="1.6" fill="#000"/>
<circle cx="214.10" cy="474.20" r="1.6" fill="#000"/>
<circle cx="218.40" cy="473.70" r="1.6" fill="#000"/>
<line x1="208.00" y1="468.20" x2="224.50" y2="468.20" stroke="#000" stroke-width="0.95" />
<line x1="216.25" y1="466.80" x2="216.25" y2="469.60" stroke="#000" stroke-width="0.9" />
<line x1="212.65" y1="466.80" x2="219.85" y2="466.80" stroke="#000" stroke-width="0.9" />
<line x1="212.65" y1="469.60" x2="219.85" y2="469.60" stroke="#000" stroke-width="0.9" />
<circle cx="236.20" cy="457.00" r="1.6" fill="#4896ff"/>
<circle cx="246.50" cy="457.30" r="1.6" fill="#4896ff"/>
<circle cx="240.10" cy="459.20" r="1.6" fill="#4896ff"/>
<circle cx="244.60" cy="460.20" r="1.6" fill="#4896ff"/>
<circle cx="236.20" cy="463.70" r="1.6" fill="#4896ff"/>
<circle cx="240.10" cy="464.00" r="1.6" fill="#4896ff"/>
<circle cx="238.10" cy="469.30" r="1.6" fill="#4896ff"/>
<circle cx="242.60" cy="468.20" r="1.6" fill="#4896ff"/>
<line x1="232.00" y1="462.40" x2="248.60" y2="462.40" stroke="#4896ff" stroke-width="0.95" />
<line x1="240.30" y1="460.50" x2="240.30" y2="464.30" stroke="#4896ff" stroke-width="0.9" />
<line x1="236.70" y1="460.50" x2="243.90" y2="460.50" stroke="#4896ff" stroke-width="0.9" />
<line x1="236.70" y1="464.30" x2="243.90" y2="464.30" stroke="#4896ff" stroke-width="0.9" />
<circle cx="264.60" cy="446.90" r="1.6" fill="#0000ff"/>
<circle cx="262.60" cy="458.10" r="1.6" fill="#0000ff"/>
<circle cx="267.10" cy="458.10" r="1.6" fill="#0000ff"/>
<circle cx="260.60" cy="464.00" r="1.6" fill="#0000ff"/>
<circle cx="264.60" cy="464.20" r="1.6" fill="#0000ff"/>
<circle cx="268.70" cy="463.70" r="1.6" fill="#0000ff"/>
<circle cx="262.60" cy="473.00" r="1.6" fill="#0000ff"/>
<circle cx="267.10" cy="471.00" r="1.6" fill="#0000ff"/>
<line x1="256.60" y1="462.40" x2="272.70" y2="462.40" stroke="#0000ff" stroke-width="0.95" />
<line x1="264.65" y1="460.00" x2="264.65" y2="465.00" stroke="#0000ff" stroke-width="0.9" />
<line x1="261.05" y1="460.00" x2="268.25" y2="460.00" stroke="#0000ff" stroke-width="0.9" />
<line x1="261.05" y1="465.00" x2="268.25" y2="465.00" stroke="#0000ff" stroke-width="0.9" />
<circle cx="289.20" cy="448.50" r="1.6" fill="#0000c0"/>
<circle cx="282.30" cy="460.20" r="1.6" fill="#0000c0"/>
<circle cx="286.00" cy="460.50" r="1.6" fill="#0000c0"/>
<circle cx="289.20" cy="461.30" r="1.6" fill="#0000c0"/>
<circle cx="292.40" cy="460.20" r="1.6" fill="#0000c0"/>
<circle cx="295.60" cy="460.20" r="1.6" fill="#0000c0"/>
<circle cx="289.20" cy="468.90" r="1.6" fill="#0000c0"/>
<line x1="280.70" y1="460.20" x2="296.80" y2="460.20" stroke="#0000c0" stroke-width="0.95" />
<line x1="288.75" y1="458.30" x2="288.75" y2="462.30" stroke="#0000c0" stroke-width="0.9" />
<line x1="285.15" y1="458.30" x2="292.35" y2="458.30" stroke="#0000c0" stroke-width="0.9" />
<line x1="285.15" y1="462.30" x2="292.35" y2="462.30" stroke="#0000c0" stroke-width="0.9" />
<path d="M289.20,440.90 L289.20,438.20 M289.20,440.90 L291.77,440.07 M289.20,440.90 L290.79,443.08 M289.20,440.90 L287.61,443.08 M289.20,440.90 L286.63,440.07 " stroke="#000" stroke-width="1.1" stroke-linecap="round" fill="none"/>
<text x="318.00" y="416.00" font-size="13.5" font-weight="bold">k</text>
<text x="407.20" y="429.76" font-size="8.5" font-weight="bold" text-anchor="middle" fill="#000" >Corticosterone inhibition in vivo</text>
<line x1="353.90" y1="437.60" x2="353.90" y2="508.00" stroke="#3a3a3a" stroke-width="1" />
<line x1="353.40" y1="507.50" x2="459.50" y2="507.50" stroke="#3a3a3a" stroke-width="1" />
<line x1="352.00" y1="507.50" x2="353.90" y2="507.50" stroke="#3a3a3a" stroke-width="1" />
<text x="347.70" y="510.06" font-size="8.5" font-weight="bold" text-anchor="end" fill="#000" >0</text>
<line x1="352.00" y1="490.10" x2="353.90" y2="490.10" stroke="#3a3a3a" stroke-width="1" />
<text x="347.70" y="492.66" font-size="8.5" font-weight="bold" text-anchor="end" fill="#000" >100</text>
<line x1="352.00" y1="472.60" x2="353.90" y2="472.60" stroke="#3a3a3a" stroke-width="1" />
<text x="347.70" y="475.16" font-size="8.5" font-weight="bold" text-anchor="end" fill="#000" >200</text>
<line x1="352.00" y1="455.00" x2="353.90" y2="455.00" stroke="#3a3a3a" stroke-width="1" />
<text x="347.70" y="457.56" font-size="8.5" font-weight="bold" text-anchor="end" fill="#000" >300</text>
<line x1="352.00" y1="437.60" x2="353.90" y2="437.60" stroke="#3a3a3a" stroke-width="1" />
<text x="347.70" y="440.16" font-size="8.5" font-weight="bold" text-anchor="end" fill="#000" >400</text>
<line x1="378.50" y1="507.50" x2="378.50" y2="509.70" stroke="#3a3a3a" stroke-width="0.9" />
<text x="378.50" y="520.66" font-size="8.5" font-weight="bold" text-anchor="middle" fill="#000" >0</text>
<line x1="434.70" y1="507.50" x2="434.70" y2="509.70" stroke="#3a3a3a" stroke-width="0.9" />
<text x="434.70" y="520.66" font-size="8.5" font-weight="bold" text-anchor="middle" fill="#000" >30</text>
<text transform="translate(322.50,472.50) rotate(-90)" x="0" y="3.06" font-size="8.5" font-weight="bold" text-anchor="middle" fill="#000">(ng/mL)</text>
<circle cx="368.10" cy="478.60" r="1.6" fill="#0000ff"/>
<circle cx="366.10" cy="485.00" r="1.6" fill="#0000ff"/>
<circle cx="370.50" cy="485.00" r="1.6" fill="#0000ff"/>
<circle cx="362.90" cy="487.70" r="1.6" fill="#0000ff"/>
<circle cx="373.20" cy="487.40" r="1.6" fill="#0000ff"/>
<circle cx="368.10" cy="489.00" r="1.6" fill="#0000ff"/>
<circle cx="366.10" cy="500.00" r="1.6" fill="#0000ff"/>
<circle cx="370.50" cy="500.60" r="1.6" fill="#0000ff"/>
<circle cx="368.10" cy="505.60" r="1.6" fill="#0000ff"/>
<line x1="360.80" y1="490.60" x2="375.30" y2="490.60" stroke="#0000ff" stroke-width="0.95" />
<line x1="368.05" y1="488.20" x2="368.05" y2="493.00" stroke="#0000ff" stroke-width="0.9" />
<line x1="364.45" y1="488.20" x2="371.65" y2="488.20" stroke="#0000ff" stroke-width="0.9" />
<line x1="364.45" y1="493.00" x2="371.65" y2="493.00" stroke="#0000ff" stroke-width="0.9" />
<circle cx="389.40" cy="465.30" r="1.6" fill="#f54fd8"/>
<circle cx="389.40" cy="471.40" r="1.6" fill="#f54fd8"/>
<circle cx="391.30" cy="473.80" r="1.6" fill="#f54fd8"/>
<circle cx="387.00" cy="476.20" r="1.6" fill="#f54fd8"/>
<circle cx="389.40" cy="481.00" r="1.6" fill="#f54fd8"/>
<circle cx="387.00" cy="496.30" r="1.6" fill="#f54fd8"/>
<circle cx="393.40" cy="497.90" r="1.6" fill="#f54fd8"/>
<circle cx="391.30" cy="501.10" r="1.6" fill="#f54fd8"/>
<circle cx="387.00" cy="504.60" r="1.6" fill="#f54fd8"/>
<line x1="382.50" y1="485.20" x2="396.20" y2="485.20" stroke="#f54fd8" stroke-width="0.95" />
<line x1="389.35" y1="481.00" x2="389.35" y2="489.30" stroke="#f54fd8" stroke-width="0.9" />
<line x1="385.75" y1="481.00" x2="392.95" y2="481.00" stroke="#f54fd8" stroke-width="0.9" />
<line x1="385.75" y1="489.30" x2="392.95" y2="489.30" stroke="#f54fd8" stroke-width="0.9" />
<circle cx="424.30" cy="446.80" r="1.6" fill="#0000ff"/>
<circle cx="424.30" cy="452.90" r="1.6" fill="#0000ff"/>
<circle cx="421.90" cy="458.50" r="1.6" fill="#0000ff"/>
<circle cx="426.70" cy="458.50" r="1.6" fill="#0000ff"/>
<circle cx="419.10" cy="463.00" r="1.6" fill="#0000ff"/>
<circle cx="422.70" cy="463.00" r="1.6" fill="#0000ff"/>
<circle cx="426.20" cy="463.00" r="1.6" fill="#0000ff"/>
<circle cx="429.90" cy="462.50" r="1.6" fill="#0000ff"/>
<circle cx="421.90" cy="466.50" r="1.6" fill="#0000ff"/>
<circle cx="426.70" cy="466.50" r="1.6" fill="#0000ff"/>
<circle cx="424.30" cy="472.20" r="1.6" fill="#0000ff"/>
<line x1="417.00" y1="461.40" x2="431.00" y2="461.40" stroke="#0000ff" stroke-width="0.95" />
<line x1="424.00" y1="459.30" x2="424.00" y2="464.90" stroke="#0000ff" stroke-width="0.9" />
<line x1="420.40" y1="459.30" x2="427.60" y2="459.30" stroke="#0000ff" stroke-width="0.9" />
<line x1="420.40" y1="464.90" x2="427.60" y2="464.90" stroke="#0000ff" stroke-width="0.9" />
<circle cx="445.50" cy="461.40" r="1.6" fill="#f54fd8"/>
<circle cx="441.10" cy="464.10" r="1.6" fill="#f54fd8"/>
<circle cx="449.60" cy="464.10" r="1.6" fill="#f54fd8"/>
<circle cx="445.50" cy="466.90" r="1.6" fill="#f54fd8"/>
<circle cx="440.00" cy="473.30" r="1.6" fill="#f54fd8"/>
<circle cx="443.50" cy="473.80" r="1.6" fill="#f54fd8"/>
<circle cx="450.80" cy="475.40" r="1.6" fill="#f54fd8"/>
<circle cx="446.70" cy="478.10" r="1.6" fill="#f54fd8"/>
<circle cx="445.50" cy="485.30" r="1.6" fill="#f54fd8"/>
<line x1="438.70" y1="472.20" x2="452.40" y2="472.20" stroke="#f54fd8" stroke-width="0.95" />
<line x1="445.55" y1="469.40" x2="445.55" y2="474.60" stroke="#f54fd8" stroke-width="0.9" />
<line x1="441.95" y1="469.40" x2="449.15" y2="469.40" stroke="#f54fd8" stroke-width="0.9" />
<line x1="441.95" y1="474.60" x2="449.15" y2="474.60" stroke="#f54fd8" stroke-width="0.9" />
<path d="M424,444 V440.5 H446 V458.5" fill="none" stroke="#333" stroke-width="1.1"/>
<path d="M434.50,435.30 L434.50,432.60 M434.50,435.30 L437.07,434.47 M434.50,435.30 L436.09,437.48 M434.50,435.30 L432.91,437.48 M434.50,435.30 L431.93,434.47 " stroke="#f54fd8" stroke-width="1.1" stroke-linecap="round" fill="none"/>
<text x="491.00" y="416.00" font-size="13.5" font-weight="bold">l</text>
<text x="576.50" y="429.76" font-size="8.5" font-weight="bold" text-anchor="middle" fill="#000" >Glycerol inhibition in vivo</text>
<line x1="522.60" y1="437.30" x2="522.60" y2="508.00" stroke="#3a3a3a" stroke-width="1" />
<line x1="522.10" y1="507.50" x2="629.20" y2="507.50" stroke="#3a3a3a" stroke-width="1" />
<line x1="520.70" y1="507.50" x2="522.60" y2="507.50" stroke="#3a3a3a" stroke-width="1" />
<text x="516.40" y="510.06" font-size="8.5" font-weight="bold" text-anchor="end" fill="#000" >0.0</text>
<line x1="520.70" y1="484.20" x2="522.60" y2="484.20" stroke="#3a3a3a" stroke-width="1" />
<text x="516.40" y="486.76" font-size="8.5" font-weight="bold" text-anchor="end" fill="#000" >0.2</text>
<line x1="520.70" y1="460.90" x2="522.60" y2="460.90" stroke="#3a3a3a" stroke-width="1" />
<text x="516.40" y="463.46" font-size="8.5" font-weight="bold" text-anchor="end" fill="#000" >0.4</text>
<line x1="520.70" y1="437.30" x2="522.60" y2="437.30" stroke="#3a3a3a" stroke-width="1" />
<text x="516.40" y="439.86" font-size="8.5" font-weight="bold" text-anchor="end" fill="#000" >0.6</text>
<line x1="547.60" y1="507.50" x2="547.60" y2="509.70" stroke="#3a3a3a" stroke-width="0.9" />
<text x="547.60" y="520.66" font-size="8.5" font-weight="bold" text-anchor="middle" fill="#000" >0</text>
<line x1="603.50" y1="507.50" x2="603.50" y2="509.70" stroke="#3a3a3a" stroke-width="0.9" />
<text x="603.50" y="520.66" font-size="8.5" font-weight="bold" text-anchor="middle" fill="#000" >30</text>
<text transform="translate(495.00,472.50) rotate(-90)" x="0" y="3.06" font-size="8.5" font-weight="bold" text-anchor="middle" fill="#000">(mM)</text>
<circle cx="537.30" cy="458.20" r="1.6" fill="#0000ff"/>
<circle cx="535.30" cy="466.50" r="1.6" fill="#0000ff"/>
<circle cx="540.10" cy="466.20" r="1.6" fill="#0000ff"/>
<circle cx="540.90" cy="467.30" r="1.6" fill="#0000ff"/>
<circle cx="533.70" cy="469.40" r="1.6" fill="#0000ff"/>
<circle cx="537.30" cy="469.40" r="1.6" fill="#0000ff"/>
<circle cx="535.30" cy="475.40" r="1.6" fill="#0000ff"/>
<circle cx="539.30" cy="477.80" r="1.6" fill="#0000ff"/>
<circle cx="537.30" cy="489.50" r="1.6" fill="#0000ff"/>
<line x1="530.00" y1="470.90" x2="544.40" y2="470.90" stroke="#0000ff" stroke-width="0.95" />
<line x1="537.20" y1="469.00" x2="537.20" y2="473.30" stroke="#0000ff" stroke-width="0.9" />
<line x1="533.60" y1="469.00" x2="540.80" y2="469.00" stroke="#0000ff" stroke-width="0.9" />
<line x1="533.60" y1="473.30" x2="540.80" y2="473.30" stroke="#0000ff" stroke-width="0.9" />
<circle cx="558.50" cy="464.10" r="1.6" fill="#f54fd8"/>
<circle cx="552.90" cy="469.40" r="1.6" fill="#f54fd8"/>
<circle cx="563.40" cy="470.10" r="1.6" fill="#f54fd8"/>
<circle cx="556.60" cy="471.70" r="1.6" fill="#f54fd8"/>
<circle cx="560.10" cy="473.80" r="1.6" fill="#f54fd8"/>
<circle cx="554.00" cy="477.00" r="1.6" fill="#f54fd8"/>
<circle cx="558.50" cy="479.10" r="1.6" fill="#f54fd8"/>
<circle cx="556.60" cy="481.80" r="1.6" fill="#f54fd8"/>
<circle cx="560.50" cy="483.40" r="1.6" fill="#f54fd8"/>
<circle cx="558.50" cy="496.30" r="1.6" fill="#f54fd8"/>
<line x1="551.80" y1="476.20" x2="565.30" y2="476.20" stroke="#f54fd8" stroke-width="0.95" />
<line x1="558.55" y1="473.80" x2="558.55" y2="479.10" stroke="#f54fd8" stroke-width="0.9" />
<line x1="554.95" y1="473.80" x2="562.15" y2="473.80" stroke="#f54fd8" stroke-width="0.9" />
<line x1="554.95" y1="479.10" x2="562.15" y2="479.10" stroke="#f54fd8" stroke-width="0.9" />
<circle cx="593.50" cy="444.40" r="1.6" fill="#0000ff"/>
<circle cx="593.50" cy="455.60" r="1.6" fill="#0000ff"/>
<circle cx="588.30" cy="458.80" r="1.6" fill="#0000ff"/>
<circle cx="598.70" cy="458.80" r="1.6" fill="#0000ff"/>
<circle cx="593.50" cy="461.40" r="1.6" fill="#0000ff"/>
<circle cx="588.30" cy="466.50" r="1.6" fill="#0000ff"/>
<circle cx="598.70" cy="466.20" r="1.6" fill="#0000ff"/>
<circle cx="591.50" cy="469.80" r="1.6" fill="#0000ff"/>
<circle cx="595.20" cy="468.10" r="1.6" fill="#0000ff"/>
<line x1="586.60" y1="461.40" x2="600.60" y2="461.40" stroke="#0000ff" stroke-width="0.95" />
<line x1="593.60" y1="459.30" x2="593.60" y2="463.70" stroke="#0000ff" stroke-width="0.9" />
<line x1="590.00" y1="459.30" x2="597.20" y2="459.30" stroke="#0000ff" stroke-width="0.9" />
<line x1="590.00" y1="463.70" x2="597.20" y2="463.70" stroke="#0000ff" stroke-width="0.9" />
<circle cx="614.40" cy="447.60" r="1.6" fill="#f54fd8"/>
<circle cx="610.30" cy="465.30" r="1.6" fill="#f54fd8"/>
<circle cx="614.40" cy="463.00" r="1.6" fill="#f54fd8"/>
<circle cx="618.80" cy="465.30" r="1.6" fill="#f54fd8"/>
<circle cx="614.40" cy="468.10" r="1.6" fill="#f54fd8"/>
<circle cx="609.90" cy="477.50" r="1.6" fill="#f54fd8"/>
<circle cx="614.40" cy="479.40" r="1.6" fill="#f54fd8"/>
<circle cx="618.80" cy="477.50" r="1.6" fill="#f54fd8"/>
<circle cx="614.40" cy="485.30" r="1.6" fill="#f54fd8"/>
<circle cx="614.40" cy="494.60" r="1.6" fill="#f54fd8"/>
<line x1="607.50" y1="472.20" x2="621.50" y2="472.20" stroke="#f54fd8" stroke-width="0.95" />
<line x1="614.50" y1="468.10" x2="614.50" y2="476.20" stroke="#f54fd8" stroke-width="0.9" />
<line x1="610.90" y1="468.10" x2="618.10" y2="468.10" stroke="#f54fd8" stroke-width="0.9" />
<line x1="610.90" y1="476.20" x2="618.10" y2="476.20" stroke="#f54fd8" stroke-width="0.9" />
<path d="M593.5,442.5 V438.9 H615.5 V445.3" fill="none" stroke="#333" stroke-width="1.1"/>
<path d="M604.30,434.70 L604.30,432.00 M604.30,434.70 L606.87,433.87 M604.30,434.70 L605.89,436.88 M604.30,434.70 L602.71,436.88 M604.30,434.70 L601.73,433.87 " stroke="#f54fd8" stroke-width="1.1" stroke-linecap="round" fill="none"/>
<text x="94.50" y="533.26" font-size="8.5" font-weight="bold" text-anchor="middle" fill="#000" >Time post DA-GIP (min)</text>
<text x="252.50" y="533.26" font-size="8.5" font-weight="bold" text-anchor="middle" fill="#000" >Time post DA-GIP (min)</text>
<text x="407.00" y="533.26" font-size="8.5" font-weight="bold" text-anchor="middle" fill="#000" >Time post DA-GIP (min)</text>
<text x="576.00" y="533.26" font-size="8.5" font-weight="bold" text-anchor="middle" fill="#000" >Time post DA-GIP (min)</text>
<rect x="48.4" y="538.6" width="243" height="35" fill="#fff" stroke="#000" stroke-width="1.1"/>
<circle cx="54.90" cy="548.50" r="3.1" fill="#000"/>
<text x="63.20" y="551.56" font-size="8.5" font-weight="normal" text-anchor="start" fill="#000" >Saline</text>
<circle cx="54.90" cy="562.40" r="3.1" fill="#4896ff"/>
<text x="63.20" y="565.46" font-size="8.5" font-weight="normal" text-anchor="start" fill="#000" >DA-GIP (16.7 nmol/kg)</text>
<circle cx="180.00" cy="547.30" r="3.1" fill="#0000ff"/>
<text x="187.00" y="550.36" font-size="8.5" font-weight="normal" text-anchor="start" fill="#000" >DA-GIP (50 nmol/kg)</text>
<circle cx="180.00" cy="563.00" r="3.1" fill="#0000c0"/>
<text x="187.00" y="566.06" font-size="8.5" font-weight="normal" text-anchor="start" fill="#000" >DA-GIP (150 nmol/kg)</text>
<rect x="396" y="538.8" width="162.7" height="35" fill="#fff" stroke="#000" stroke-width="1.1"/>
<circle cx="403.50" cy="548.30" r="3.5" fill="#0000ff"/>
<text x="411.80" y="551.36" font-size="8.5" font-weight="normal" text-anchor="start" fill="#000" >Vehicle / DA-GIP (80 nmol/kg)</text>
<circle cx="403.50" cy="563.50" r="3.5" fill="#f54fd8"/>
<text x="411.80" y="566.56" font-size="8.5" font-weight="normal" text-anchor="start" fill="#000" >muGIPR-Ab / DA-GIP (80 nmol/kg)</text>
<text x="0.00" y="601.00" font-size="13.5" font-weight="bold">m</text>
<text x="100.00" y="602.66" font-size="8.5" font-weight="bold" text-anchor="middle" fill="#000" >GIP-stimulated cAMP production</text>
<text x="100.50" y="613.26" font-size="8.5" font-weight="bold" text-anchor="middle" fill="#000" >in mouse primary adipocytes</text>
<line x1="47.20" y1="623.20" x2="47.20" y2="694.00" stroke="#3a3a3a" stroke-width="1" />
<line x1="46.70" y1="693.50" x2="57.60" y2="693.50" stroke="#3a3a3a" stroke-width="1" />
<line x1="63.30" y1="693.50" x2="153.20" y2="693.50" stroke="#3a3a3a" stroke-width="1" />
<line x1="57.60" y1="692.10" x2="57.60" y2="695.10" stroke="#3a3a3a" stroke-width="0.9" />
<line x1="63.30" y1="692.10" x2="63.30" y2="695.10" stroke="#3a3a3a" stroke-width="0.9" />
<line x1="45.20" y1="623.60" x2="47.20" y2="623.60" stroke="#3a3a3a" stroke-width="1" />
<text x="41.00" y="626.66" font-size="8.5" font-weight="bold" text-anchor="end" fill="#000" >0.00</text>
<line x1="45.20" y1="637.50" x2="47.20" y2="637.50" stroke="#3a3a3a" stroke-width="1" />
<text x="41.00" y="640.56" font-size="8.5" font-weight="bold" text-anchor="end" fill="#000" >0.05</text>
<line x1="45.20" y1="651.40" x2="47.20" y2="651.40" stroke="#3a3a3a" stroke-width="1" />
<text x="41.00" y="654.46" font-size="8.5" font-weight="bold" text-anchor="end" fill="#000" >0.10</text>
<line x1="45.20" y1="665.50" x2="47.20" y2="665.50" stroke="#3a3a3a" stroke-width="1" />
<text x="41.00" y="668.56" font-size="8.5" font-weight="bold" text-anchor="end" fill="#000" >0.15</text>
<line x1="45.20" y1="679.40" x2="47.20" y2="679.40" stroke="#3a3a3a" stroke-width="1" />
<text x="41.00" y="682.46" font-size="8.5" font-weight="bold" text-anchor="end" fill="#000" >0.20</text>
<line x1="45.20" y1="693.40" x2="47.20" y2="693.40" stroke="#3a3a3a" stroke-width="1" />
<text x="41.00" y="696.46" font-size="8.5" font-weight="bold" text-anchor="end" fill="#000" >0.25</text>
<line x1="63.60" y1="693.50" x2="63.60" y2="695.90" stroke="#3a3a3a" stroke-width="0.9" />
<text x="63.60" y="705.96" font-size="8.5" font-weight="bold" text-anchor="middle" fill="#000" >&#8722;2</text>
<line x1="79.80" y1="693.50" x2="79.80" y2="695.90" stroke="#3a3a3a" stroke-width="0.9" />
<text x="79.80" y="705.96" font-size="8.5" font-weight="bold" text-anchor="middle" fill="#000" >&#8722;1</text>
<line x1="96.00" y1="693.50" x2="96.00" y2="695.90" stroke="#3a3a3a" stroke-width="0.9" />
<text x="96.00" y="705.96" font-size="8.5" font-weight="bold" text-anchor="middle" fill="#000" >0</text>
<line x1="112.20" y1="693.50" x2="112.20" y2="695.90" stroke="#3a3a3a" stroke-width="0.9" />
<text x="112.20" y="705.96" font-size="8.5" font-weight="bold" text-anchor="middle" fill="#000" >1</text>
<line x1="128.40" y1="693.50" x2="128.40" y2="695.90" stroke="#3a3a3a" stroke-width="0.9" />
<text x="128.40" y="705.96" font-size="8.5" font-weight="bold" text-anchor="middle" fill="#000" >2</text>
<line x1="144.60" y1="693.50" x2="144.60" y2="695.90" stroke="#3a3a3a" stroke-width="0.9" />
<text x="144.60" y="705.96" font-size="8.5" font-weight="bold" text-anchor="middle" fill="#000" >3</text>
<text transform="translate(53.8,704.6) rotate(-27)" x="0" y="0" font-size="8.5" font-weight="bold" text-anchor="end">Basal</text>
<text x="100.30" y="719.26" font-size="8.5" font-weight="bold" text-anchor="middle" fill="#000" >Log [mouse GIP] (nM)</text>
<text transform="translate(6.40,657.50) rotate(-90)" x="0" y="3.06" font-size="8.5" font-weight="bold" text-anchor="middle" fill="#000">cAMP</text>
<text transform="translate(15.20,657.50) rotate(-90)" x="0" y="3.04" font-size="8.45" font-weight="bold" text-anchor="middle" fill="#000">(Ratio 665/620)</text>
<text x="51.70" y="632.86" font-size="7.12" font-weight="normal" text-anchor="start" fill="#0000ff" >Mouse GIP EC<tspan font-size="5" dy="1.6">50</tspan><tspan dy="-1.6"> = 3.8 nM</tspan></text>
<line x1="52.60" y1="678.70" x2="52.60" y2="685.50" stroke="#000" stroke-width="1.1" />
<line x1="51.00" y1="678.70" x2="54.20" y2="678.70" stroke="#000" stroke-width="1.1" />
<line x1="51.00" y1="685.50" x2="54.20" y2="685.50" stroke="#000" stroke-width="1.1" />
<circle cx="52.60" cy="682.00" r="1.4" fill="#000"/>
<line x1="53.80" y1="683.40" x2="57.00" y2="683.40" stroke="#0000ff" stroke-width="1.1" />
<path d="M63.10,683.20 L64.12,683.19 L65.15,683.17 L66.17,683.15 L67.20,683.13 L68.22,683.10 L69.24,683.07 L70.27,683.03 L71.29,682.99 L72.31,682.94 L73.34,682.89 L74.36,682.83 L75.39,682.75 L76.41,682.67 L77.43,682.57 L78.46,682.46 L79.48,682.33 L80.50,682.18 L81.53,682.02 L82.55,681.82 L83.58,681.60 L84.60,681.35 L85.62,681.07 L86.65,680.74 L87.67,680.38 L88.69,679.96 L89.72,679.49 L90.74,678.97 L91.77,678.39 L92.79,677.74 L93.81,677.02 L94.84,676.24 L95.86,675.38 L96.88,674.45 L97.91,673.45 L98.93,672.38 L99.96,671.26 L100.98,670.08 L102.00,668.85 L103.03,667.60 L104.05,666.32 L105.07,665.04 L106.10,663.76 L107.12,662.50 L108.15,661.28 L109.17,660.10 L110.19,658.97 L111.22,657.90 L112.24,656.90 L113.26,655.96 L114.29,655.10 L115.31,654.31 L116.34,653.59 L117.36,652.94 L118.38,652.35 L119.41,651.83 L120.43,651.36 L121.45,650.94 L122.48,650.57 L123.50,650.25 L124.53,649.96 L125.55,649.71 L126.57,649.49 L127.60,649.29 L128.62,649.12 L129.64,648.97 L130.67,648.85 L131.69,648.73 L132.72,648.64 L133.74,648.55 L134.76,648.48 L135.79,648.41 L136.81,648.36 L137.83,648.31 L138.86,648.27 L139.88,648.23 L140.91,648.20 L141.93,648.17 L142.95,648.15 L143.98,648.13 L145.00,648.11" fill="none" stroke="#0000ff" stroke-width="1.3"/>
<line x1="82.90" y1="679.40" x2="82.90" y2="687.60" stroke="#0000ff" stroke-width="1.1" />
<line x1="81.30" y1="679.40" x2="84.50" y2="679.40" stroke="#0000ff" stroke-width="1.1" />
<line x1="81.30" y1="687.60" x2="84.50" y2="687.60" stroke="#0000ff" stroke-width="1.1" />
<circle cx="82.90" cy="682.40" r="1.4" fill="#0000ff"/>
<line x1="94.60" y1="673.20" x2="94.60" y2="684.90" stroke="#0000ff" stroke-width="1.1" />
<line x1="93.00" y1="673.20" x2="96.20" y2="673.20" stroke="#0000ff" stroke-width="1.1" />
<line x1="93.00" y1="684.90" x2="96.20" y2="684.90" stroke="#0000ff" stroke-width="1.1" />
<circle cx="94.60" cy="678.80" r="1.4" fill="#0000ff"/>
<line x1="105.80" y1="656.90" x2="105.80" y2="671.60" stroke="#0000ff" stroke-width="1.1" />
<line x1="104.20" y1="656.90" x2="107.40" y2="656.90" stroke="#0000ff" stroke-width="1.1" />
<line x1="104.20" y1="671.60" x2="107.40" y2="671.60" stroke="#0000ff" stroke-width="1.1" />
<circle cx="105.80" cy="664.00" r="1.4" fill="#0000ff"/>
<line x1="117.10" y1="650.20" x2="117.10" y2="656.30" stroke="#0000ff" stroke-width="1.1" />
<line x1="115.50" y1="650.20" x2="118.70" y2="650.20" stroke="#0000ff" stroke-width="1.1" />
<line x1="115.50" y1="656.30" x2="118.70" y2="656.30" stroke="#0000ff" stroke-width="1.1" />
<circle cx="117.10" cy="652.80" r="1.4" fill="#0000ff"/>
<line x1="128.70" y1="645.70" x2="128.70" y2="650.80" stroke="#0000ff" stroke-width="1.1" />
<line x1="127.10" y1="645.70" x2="130.30" y2="645.70" stroke="#0000ff" stroke-width="1.1" />
<line x1="127.10" y1="650.80" x2="130.30" y2="650.80" stroke="#0000ff" stroke-width="1.1" />
<circle cx="128.70" cy="648.30" r="1.4" fill="#0000ff"/>
<line x1="144.70" y1="642.60" x2="144.70" y2="652.80" stroke="#0000ff" stroke-width="1.1" />
<line x1="143.10" y1="642.60" x2="146.30" y2="642.60" stroke="#0000ff" stroke-width="1.1" />
<line x1="143.10" y1="652.80" x2="146.30" y2="652.80" stroke="#0000ff" stroke-width="1.1" />
<circle cx="144.70" cy="648.10" r="1.4" fill="#0000ff"/>
<text x="180.30" y="601.00" font-size="13.5" font-weight="bold">n</text>
<text x="281.50" y="602.66" font-size="8.5" font-weight="bold" text-anchor="middle" fill="#000" >Inhibition of GIPR activity in</text>
<text x="281.50" y="612.66" font-size="8.5" font-weight="bold" text-anchor="middle" fill="#000" >mouse primary adipocytes</text>
<line x1="226.30" y1="623.20" x2="226.30" y2="694.10" stroke="#3a3a3a" stroke-width="1" />
<line x1="225.80" y1="693.60" x2="236.10" y2="693.60" stroke="#3a3a3a" stroke-width="1" />
<line x1="244.20" y1="693.60" x2="331.50" y2="693.60" stroke="#3a3a3a" stroke-width="1" />
<path d="M234.6,696 L238.2,691.2 M240.2,696 L243.8,691.2" stroke="#3a3a3a" stroke-width="0.9" fill="none"/>
<line x1="224.30" y1="623.60" x2="226.30" y2="623.60" stroke="#3a3a3a" stroke-width="1" />
<text x="220.10" y="626.66" font-size="8.5" font-weight="bold" text-anchor="end" fill="#000" >0.10</text>
<line x1="224.30" y1="646.60" x2="226.30" y2="646.60" stroke="#3a3a3a" stroke-width="1" />
<text x="220.10" y="649.66" font-size="8.5" font-weight="bold" text-anchor="end" fill="#000" >0.15</text>
<line x1="224.30" y1="670.20" x2="226.30" y2="670.20" stroke="#3a3a3a" stroke-width="1" />
<text x="220.10" y="673.26" font-size="8.5" font-weight="bold" text-anchor="end" fill="#000" >0.20</text>
<line x1="224.30" y1="693.60" x2="226.30" y2="693.60" stroke="#3a3a3a" stroke-width="1" />
<text x="220.10" y="696.66" font-size="8.5" font-weight="bold" text-anchor="end" fill="#000" >0.25</text>
<line x1="249.44" y1="693.60" x2="249.44" y2="696.00" stroke="#3a3a3a" stroke-width="0.9" />
<text x="249.44" y="705.96" font-size="8.5" font-weight="bold" text-anchor="middle" fill="#000" >&#8722;2</text>
<line x1="264.52" y1="693.60" x2="264.52" y2="696.00" stroke="#3a3a3a" stroke-width="0.9" />
<text x="264.52" y="705.96" font-size="8.5" font-weight="bold" text-anchor="middle" fill="#000" >&#8722;1</text>
<line x1="279.60" y1="693.60" x2="279.60" y2="696.00" stroke="#3a3a3a" stroke-width="0.9" />
<text x="279.60" y="705.96" font-size="8.5" font-weight="bold" text-anchor="middle" fill="#000" >0</text>
<line x1="294.68" y1="693.60" x2="294.68" y2="696.00" stroke="#3a3a3a" stroke-width="0.9" />
<text x="294.68" y="705.96" font-size="8.5" font-weight="bold" text-anchor="middle" fill="#000" >1</text>
<line x1="309.76" y1="693.60" x2="309.76" y2="696.00" stroke="#3a3a3a" stroke-width="0.9" />
<text x="309.76" y="705.96" font-size="8.5" font-weight="bold" text-anchor="middle" fill="#000" >2</text>
<line x1="324.84" y1="693.60" x2="324.84" y2="696.00" stroke="#3a3a3a" stroke-width="0.9" />
<text x="324.84" y="705.96" font-size="8.5" font-weight="bold" text-anchor="middle" fill="#000" >3</text>
<line x1="231.50" y1="693.60" x2="231.50" y2="696.00" stroke="#3a3a3a" stroke-width="0.9" />
<text transform="translate(236,703.3) rotate(-35)" x="0" y="0" font-size="8.5" font-weight="bold" text-anchor="end">10 nM GIP</text>
<text x="279.50" y="719.66" font-size="8.5" font-weight="bold" text-anchor="middle" fill="#000" >Log [muGIPR-Ab] (nM)</text>
<text transform="translate(185.90,658.50) rotate(-90)" x="0" y="3.06" font-size="8.5" font-weight="bold" text-anchor="middle" fill="#000">cAMP</text>
<text transform="translate(195.10,657.60) rotate(-90)" x="0" y="3.04" font-size="8.45" font-weight="bold" text-anchor="middle" fill="#000">(Ratio 665/620)</text>
<text x="234.90" y="628.76" font-size="7.12" font-weight="normal" text-anchor="start" fill="#f54fd8" >muGIPR-Ab IC<tspan font-size="5" dy="1.6">50</tspan><tspan dy="-1.6"> = 77 pM</tspan></text>
<line x1="231.40" y1="629.50" x2="231.40" y2="653.50" stroke="#0000ff" stroke-width="1.1" />
<line x1="229.80" y1="629.50" x2="233.00" y2="629.50" stroke="#0000ff" stroke-width="1.1" />
<line x1="229.80" y1="653.50" x2="233.00" y2="653.50" stroke="#0000ff" stroke-width="1.1" />
<circle cx="231.40" cy="641.20" r="1.4" fill="#0000ff"/>
<path d="M231.4,645.8 H248" stroke="#f54fd8" stroke-width="1.1" stroke-dasharray="4,5.5" fill="none"/>
<path d="M244.50,645.80 L245.50,645.80 L246.51,645.80 L247.51,645.80 L248.51,645.81 L249.52,645.81 L250.52,645.81 L251.53,645.81 L252.53,645.81 L253.53,645.81 L254.54,645.81 L255.54,645.82 L256.55,645.82 L257.55,645.82 L258.55,645.82 L259.56,645.83 L260.56,645.83 L261.56,645.84 L262.57,645.84 L263.57,645.85 L264.57,645.86 L265.58,645.87 L266.58,645.88 L267.59,645.89 L268.59,645.90 L269.59,645.92 L270.60,645.93 L271.60,645.96 L272.61,645.98 L273.61,646.01 L274.61,646.04 L275.62,646.08 L276.62,646.12 L277.62,646.17 L278.63,646.23 L279.63,646.29 L280.63,646.37 L281.64,646.46 L282.64,646.56 L283.65,646.67 L284.65,646.80 L285.65,646.96 L286.66,647.13 L287.66,647.33 L288.67,647.56 L289.67,647.81 L290.67,648.11 L291.68,648.44 L292.68,648.82 L293.68,649.24 L294.69,649.72 L295.69,650.25 L296.69,650.84 L297.70,651.50 L298.70,652.22 L299.71,653.00 L300.71,653.86 L301.71,654.78 L302.72,655.77 L303.72,656.81 L304.73,657.91 L305.73,659.05 L306.73,660.22 L307.74,661.42 L308.74,662.62 L309.74,663.83 L310.75,665.02 L311.75,666.18 L312.75,667.31 L313.76,668.39 L314.76,669.41 L315.77,670.37 L316.77,671.27 L317.77,672.10 L318.78,672.86 L319.78,673.55 L320.79,674.19 L321.79,674.75 L322.79,675.26 L323.80,675.72 L324.80,676.13" fill="none" stroke="#f54fd8" stroke-width="1.3"/>
<line x1="249.40" y1="636.50" x2="249.40" y2="653.50" stroke="#f54fd8" stroke-width="1.1" />
<line x1="247.80" y1="636.50" x2="251.00" y2="636.50" stroke="#f54fd8" stroke-width="1.1" />
<line x1="247.80" y1="653.50" x2="251.00" y2="653.50" stroke="#f54fd8" stroke-width="1.1" />
<circle cx="249.40" cy="645.40" r="1.4" fill="#f54fd8"/>
<line x1="264.10" y1="644.20" x2="264.10" y2="661.30" stroke="#f54fd8" stroke-width="1.1" />
<line x1="262.50" y1="644.20" x2="265.70" y2="644.20" stroke="#f54fd8" stroke-width="1.1" />
<line x1="262.50" y1="661.30" x2="265.70" y2="661.30" stroke="#f54fd8" stroke-width="1.1" />
<circle cx="264.10" cy="652.40" r="1.4" fill="#f54fd8"/>
<line x1="279.70" y1="643.70" x2="279.70" y2="651.70" stroke="#f54fd8" stroke-width="1.1" />
<line x1="278.10" y1="643.70" x2="281.30" y2="643.70" stroke="#f54fd8" stroke-width="1.1" />
<line x1="278.10" y1="651.70" x2="281.30" y2="651.70" stroke="#f54fd8" stroke-width="1.1" />
<circle cx="279.70" cy="647.70" r="1.4" fill="#f54fd8"/>
<line x1="294.50" y1="646.50" x2="294.50" y2="654.20" stroke="#f54fd8" stroke-width="1.1" />
<line x1="292.90" y1="646.50" x2="296.10" y2="646.50" stroke="#f54fd8" stroke-width="1.1" />
<line x1="292.90" y1="654.20" x2="296.10" y2="654.20" stroke="#f54fd8" stroke-width="1.1" />
<circle cx="294.50" cy="650.70" r="1.4" fill="#f54fd8"/>
<line x1="309.60" y1="650.50" x2="309.60" y2="678.50" stroke="#f54fd8" stroke-width="1.1" />
<line x1="308.00" y1="650.50" x2="311.20" y2="650.50" stroke="#f54fd8" stroke-width="1.1" />
<line x1="308.00" y1="678.50" x2="311.20" y2="678.50" stroke="#f54fd8" stroke-width="1.1" />
<circle cx="309.60" cy="664.50" r="1.4" fill="#f54fd8"/>
<line x1="324.80" y1="663.60" x2="324.80" y2="687.40" stroke="#f54fd8" stroke-width="1.1" />
<line x1="323.20" y1="663.60" x2="326.40" y2="663.60" stroke="#f54fd8" stroke-width="1.1" />
<line x1="323.20" y1="687.40" x2="326.40" y2="687.40" stroke="#f54fd8" stroke-width="1.1" />
<circle cx="324.80" cy="675.30" r="1.4" fill="#f54fd8"/>
<text x="357.30" y="600.50" font-size="13.5" font-weight="bold">o</text>
<text x="446.70" y="602.66" font-size="8.5" font-weight="bold" text-anchor="middle" fill="#000" >GIP-stimulated lipolysis in</text>
<text x="447.20" y="612.66" font-size="8.5" font-weight="bold" text-anchor="middle" fill="#000" >mouse primary adipocytes</text>
<line x1="398.20" y1="623.20" x2="398.20" y2="694.50" stroke="#3a3a3a" stroke-width="1" />
<line x1="397.70" y1="694.00" x2="408.30" y2="694.00" stroke="#3a3a3a" stroke-width="1" />
<line x1="414.60" y1="694.00" x2="504.50" y2="694.00" stroke="#3a3a3a" stroke-width="1" />
<line x1="408.30" y1="692.80" x2="408.30" y2="696.00" stroke="#3a3a3a" stroke-width="0.9" />
<line x1="414.60" y1="692.80" x2="414.60" y2="696.00" stroke="#3a3a3a" stroke-width="0.9" />
<line x1="396.20" y1="694.00" x2="398.20" y2="694.00" stroke="#3a3a3a" stroke-width="1" />
<text x="392.00" y="697.06" font-size="8.5" font-weight="bold" text-anchor="end" fill="#000" >0.0</text>
<line x1="396.20" y1="676.40" x2="398.20" y2="676.40" stroke="#3a3a3a" stroke-width="1" />
<text x="392.00" y="679.46" font-size="8.5" font-weight="bold" text-anchor="end" fill="#000" >0.5</text>
<line x1="396.20" y1="658.70" x2="398.20" y2="658.70" stroke="#3a3a3a" stroke-width="1" />
<text x="392.00" y="661.76" font-size="8.5" font-weight="bold" text-anchor="end" fill="#000" >1.0</text>
<line x1="396.20" y1="640.90" x2="398.20" y2="640.90" stroke="#3a3a3a" stroke-width="1" />
<text x="392.00" y="643.96" font-size="8.5" font-weight="bold" text-anchor="end" fill="#000" >1.5</text>
<line x1="396.20" y1="623.60" x2="398.20" y2="623.60" stroke="#3a3a3a" stroke-width="1" />
<text x="392.00" y="626.66" font-size="8.5" font-weight="bold" text-anchor="end" fill="#000" >2.0</text>
<line x1="414.65" y1="694.00" x2="414.65" y2="696.40" stroke="#3a3a3a" stroke-width="0.9" />
<text x="414.65" y="705.96" font-size="8.5" font-weight="bold" text-anchor="middle" fill="#000" >&#8722;1</text>
<line x1="434.60" y1="694.00" x2="434.60" y2="696.40" stroke="#3a3a3a" stroke-width="0.9" />
<text x="434.60" y="705.96" font-size="8.5" font-weight="bold" text-anchor="middle" fill="#000" >0</text>
<line x1="454.55" y1="694.00" x2="454.55" y2="696.40" stroke="#3a3a3a" stroke-width="0.9" />
<text x="454.55" y="705.96" font-size="8.5" font-weight="bold" text-anchor="middle" fill="#000" >1</text>
<line x1="474.50" y1="694.00" x2="474.50" y2="696.40" stroke="#3a3a3a" stroke-width="0.9" />
<text x="474.50" y="705.96" font-size="8.5" font-weight="bold" text-anchor="middle" fill="#000" >2</text>
<line x1="494.45" y1="694.00" x2="494.45" y2="696.40" stroke="#3a3a3a" stroke-width="0.9" />
<text x="494.45" y="705.96" font-size="8.5" font-weight="bold" text-anchor="middle" fill="#000" >3</text>
<text transform="translate(405.8,705.0) rotate(-27)" x="0" y="0" font-size="8.5" font-weight="bold" text-anchor="end">Basal</text>
<text x="453.70" y="720.16" font-size="8.5" font-weight="bold" text-anchor="middle" fill="#000" >Log [mouse GIP] (nM)</text>
<text transform="translate(360.90,657.60) rotate(-90)" x="0" y="3.06" font-size="8.5" font-weight="bold" text-anchor="middle" fill="#000">Glycerol release</text>
<text transform="translate(370.90,658.30) rotate(-90)" x="0" y="3.01" font-size="8.35" font-weight="bold" text-anchor="middle" fill="#000">(fold-change from basal)</text>
<text x="401.70" y="688.06" font-size="7.12" font-weight="normal" text-anchor="start" fill="#0000ff" >Mouse GIP EC<tspan font-size="5" dy="1.6">50</tspan><tspan dy="-1.6"> = 13 nM</tspan></text>
<circle cx="403.40" cy="658.40" r="1.4" fill="#000"/>
<line x1="405.20" y1="657.70" x2="408.70" y2="657.70" stroke="#0000ff" stroke-width="1.1" />
<path d="M414.60,657.79 L415.60,657.79 L416.60,657.79 L417.60,657.79 L418.60,657.78 L419.59,657.78 L420.59,657.78 L421.59,657.77 L422.59,657.77 L423.59,657.76 L424.59,657.75 L425.59,657.74 L426.59,657.73 L427.58,657.71 L428.58,657.70 L429.58,657.68 L430.58,657.65 L431.58,657.62 L432.58,657.59 L433.58,657.54 L434.58,657.49 L435.57,657.43 L436.57,657.36 L437.57,657.27 L438.57,657.17 L439.57,657.05 L440.57,656.90 L441.57,656.73 L442.56,656.53 L443.56,656.29 L444.56,656.02 L445.56,655.70 L446.56,655.33 L447.56,654.90 L448.56,654.42 L449.56,653.88 L450.56,653.28 L451.55,652.62 L452.55,651.90 L453.55,651.13 L454.55,650.32 L455.55,649.48 L456.55,648.62 L457.55,647.76 L458.55,646.91 L459.54,646.09 L460.54,645.30 L461.54,644.56 L462.54,643.88 L463.54,643.25 L464.54,642.68 L465.54,642.18 L466.54,641.73 L467.53,641.34 L468.53,641.00 L469.53,640.71 L470.53,640.46 L471.53,640.24 L472.53,640.06 L473.53,639.91 L474.52,639.78 L475.52,639.67 L476.52,639.57 L477.52,639.49 L478.52,639.43 L479.52,639.37 L480.52,639.33 L481.52,639.29 L482.51,639.26 L483.51,639.23 L484.51,639.21 L485.51,639.19 L486.51,639.18 L487.51,639.16 L488.51,639.15 L489.51,639.14 L490.50,639.14 L491.50,639.13 L492.50,639.13 L493.50,639.12 L494.50,639.12" fill="none" stroke="#0000ff" stroke-width="1.3"/>
<line x1="432.60" y1="651.70" x2="432.60" y2="661.30" stroke="#0000ff" stroke-width="1.1" />
<line x1="431.00" y1="651.70" x2="434.20" y2="651.70" stroke="#0000ff" stroke-width="1.1" />
<line x1="431.00" y1="661.30" x2="434.20" y2="661.30" stroke="#0000ff" stroke-width="1.1" />
<circle cx="432.60" cy="657.00" r="1.4" fill="#0000ff"/>
<line x1="446.60" y1="654.00" x2="446.60" y2="658.20" stroke="#0000ff" stroke-width="1.1" />
<line x1="445.00" y1="654.00" x2="448.20" y2="654.00" stroke="#0000ff" stroke-width="1.1" />
<line x1="445.00" y1="658.20" x2="448.20" y2="658.20" stroke="#0000ff" stroke-width="1.1" />
<circle cx="446.60" cy="655.90" r="1.4" fill="#0000ff"/>
<line x1="460.60" y1="636.50" x2="460.60" y2="652.80" stroke="#0000ff" stroke-width="1.1" />
<line x1="459.00" y1="636.50" x2="462.20" y2="636.50" stroke="#0000ff" stroke-width="1.1" />
<line x1="459.00" y1="652.80" x2="462.20" y2="652.80" stroke="#0000ff" stroke-width="1.1" />
<circle cx="460.60" cy="644.20" r="1.4" fill="#0000ff"/>
<line x1="494.50" y1="637.70" x2="494.50" y2="641.40" stroke="#0000ff" stroke-width="1.1" />
<line x1="492.90" y1="637.70" x2="496.10" y2="637.70" stroke="#0000ff" stroke-width="1.1" />
<line x1="492.90" y1="641.40" x2="496.10" y2="641.40" stroke="#0000ff" stroke-width="1.1" />
<circle cx="494.50" cy="639.50" r="1.4" fill="#0000ff"/>
<text x="527.00" y="601.00" font-size="13.5" font-weight="bold">p</text>
<text x="617.90" y="602.66" font-size="8.5" font-weight="bold" text-anchor="middle" fill="#000" >Lipolysis inhibition in</text>
<text x="617.70" y="612.66" font-size="8.5" font-weight="bold" text-anchor="middle" fill="#000" >mouse primary adipocytes</text>
<line x1="567.50" y1="623.20" x2="567.50" y2="694.50" stroke="#3a3a3a" stroke-width="1" />
<line x1="567.00" y1="694.00" x2="577.00" y2="694.00" stroke="#3a3a3a" stroke-width="1" />
<line x1="588.70" y1="694.00" x2="657.60" y2="694.00" stroke="#3a3a3a" stroke-width="1" />
<line x1="669.10" y1="694.00" x2="673.50" y2="694.00" stroke="#3a3a3a" stroke-width="1" />
<line x1="577.00" y1="692.80" x2="577.00" y2="696.00" stroke="#3a3a3a" stroke-width="0.9" />
<line x1="588.70" y1="692.80" x2="588.70" y2="696.00" stroke="#3a3a3a" stroke-width="0.9" />
<line x1="657.60" y1="692.80" x2="657.60" y2="696.00" stroke="#3a3a3a" stroke-width="0.9" />
<line x1="669.10" y1="692.80" x2="669.10" y2="696.00" stroke="#3a3a3a" stroke-width="0.9" />
<line x1="565.50" y1="694.00" x2="567.50" y2="694.00" stroke="#3a3a3a" stroke-width="1" />
<text x="561.30" y="697.06" font-size="8.5" font-weight="bold" text-anchor="end" fill="#000" >0.6</text>
<line x1="565.50" y1="679.90" x2="567.50" y2="679.90" stroke="#3a3a3a" stroke-width="1" />
<text x="561.30" y="682.96" font-size="8.5" font-weight="bold" text-anchor="end" fill="#000" >0.8</text>
<line x1="565.50" y1="665.80" x2="567.50" y2="665.80" stroke="#3a3a3a" stroke-width="1" />
<text x="561.30" y="668.86" font-size="8.5" font-weight="bold" text-anchor="end" fill="#000" >1.0</text>
<line x1="565.50" y1="651.80" x2="567.50" y2="651.80" stroke="#3a3a3a" stroke-width="1" />
<text x="561.30" y="654.86" font-size="8.5" font-weight="bold" text-anchor="end" fill="#000" >1.2</text>
<line x1="565.50" y1="637.80" x2="567.50" y2="637.80" stroke="#3a3a3a" stroke-width="1" />
<text x="561.30" y="640.86" font-size="8.5" font-weight="bold" text-anchor="end" fill="#000" >1.4</text>
<line x1="565.50" y1="623.80" x2="567.50" y2="623.80" stroke="#3a3a3a" stroke-width="1" />
<text x="561.30" y="626.86" font-size="8.5" font-weight="bold" text-anchor="end" fill="#000" >1.6</text>
<line x1="595.16" y1="694.00" x2="595.16" y2="696.40" stroke="#3a3a3a" stroke-width="0.9" />
<text x="595.16" y="705.96" font-size="8.5" font-weight="bold" text-anchor="middle" fill="#000" >&#8722;2</text>
<line x1="606.43" y1="694.00" x2="606.43" y2="696.40" stroke="#3a3a3a" stroke-width="0.9" />
<text x="606.43" y="705.96" font-size="8.5" font-weight="bold" text-anchor="middle" fill="#000" >&#8722;1</text>
<line x1="617.70" y1="694.00" x2="617.70" y2="696.40" stroke="#3a3a3a" stroke-width="0.9" />
<text x="617.70" y="705.96" font-size="8.5" font-weight="bold" text-anchor="middle" fill="#000" >0</text>
<line x1="628.97" y1="694.00" x2="628.97" y2="696.40" stroke="#3a3a3a" stroke-width="0.9" />
<text x="628.97" y="705.96" font-size="8.5" font-weight="bold" text-anchor="middle" fill="#000" >1</text>
<line x1="640.24" y1="694.00" x2="640.24" y2="696.40" stroke="#3a3a3a" stroke-width="0.9" />
<text x="640.24" y="705.96" font-size="8.5" font-weight="bold" text-anchor="middle" fill="#000" >2</text>
<line x1="651.51" y1="694.00" x2="651.51" y2="696.40" stroke="#3a3a3a" stroke-width="0.9" />
<text x="651.51" y="705.96" font-size="8.5" font-weight="bold" text-anchor="middle" fill="#000" >3</text>
<text x="662.80" y="704.46" font-size="8.5" font-weight="bold" text-anchor="start" fill="#000" >Basal</text>
<text transform="translate(579.6,703.3) rotate(-35)" x="0" y="0" font-size="8.5" font-weight="bold" text-anchor="end">10 nM GIP</text>
<text x="618.50" y="719.66" font-size="8.5" font-weight="bold" text-anchor="middle" fill="#000" >Log [muGIPR-Ab] (nM)</text>
<text transform="translate(531.30,657.60) rotate(-90)" x="0" y="3.06" font-size="8.5" font-weight="bold" text-anchor="middle" fill="#000">Glycerol release</text>
<text transform="translate(540.90,658.30) rotate(-90)" x="0" y="3.01" font-size="8.35" font-weight="bold" text-anchor="middle" fill="#000">(fold-change from basal)</text>
<text x="573.60" y="687.17" font-size="7.15" font-weight="normal" text-anchor="start" fill="#f54fd8" >muGIPR-Ab IC<tspan font-size="5" dy="1.6">50</tspan><tspan dy="-1.6"> = 110 pM</tspan></text>
<line x1="572.40" y1="638.40" x2="572.40" y2="650.00" stroke="#0000ff" stroke-width="1.1" />
<line x1="570.80" y1="638.40" x2="574.00" y2="638.40" stroke="#0000ff" stroke-width="1.1" />
<line x1="570.80" y1="650.00" x2="574.00" y2="650.00" stroke="#0000ff" stroke-width="1.1" />
<circle cx="572.40" cy="644.20" r="1.4" fill="#0000ff"/>
<line x1="574.00" y1="647.70" x2="577.60" y2="647.70" stroke="#f54fd8" stroke-width="1.1" />
<path d="M588.5,647.2 H603.4 C605.6,647.2 605.4,669.2 608.8,669.2 H657.7" fill="none" stroke="#f54fd8" stroke-width="1.3"/>
<line x1="594.60" y1="648.20" x2="594.60" y2="659.40" stroke="#f54fd8" stroke-width="1.1" />
<line x1="593.00" y1="648.20" x2="596.20" y2="648.20" stroke="#f54fd8" stroke-width="1.1" />
<line x1="593.00" y1="659.40" x2="596.20" y2="659.40" stroke="#f54fd8" stroke-width="1.1" />
<circle cx="594.60" cy="653.50" r="1.4" fill="#f54fd8"/>
<line x1="605.60" y1="648.40" x2="605.60" y2="659.80" stroke="#f54fd8" stroke-width="1.1" />
<line x1="604.00" y1="648.40" x2="607.20" y2="648.40" stroke="#f54fd8" stroke-width="1.1" />
<line x1="604.00" y1="659.80" x2="607.20" y2="659.80" stroke="#f54fd8" stroke-width="1.1" />
<circle cx="605.60" cy="654.20" r="1.4" fill="#f54fd8"/>
<circle cx="617.70" cy="673.40" r="1.4" fill="#f54fd8"/>
<line x1="629.00" y1="669.50" x2="629.00" y2="674.00" stroke="#f54fd8" stroke-width="1.1" />
<line x1="627.40" y1="669.50" x2="630.60" y2="669.50" stroke="#f54fd8" stroke-width="1.1" />
<line x1="627.40" y1="674.00" x2="630.60" y2="674.00" stroke="#f54fd8" stroke-width="1.1" />
<circle cx="629.00" cy="671.80" r="1.4" fill="#f54fd8"/>
<line x1="640.20" y1="660.50" x2="640.20" y2="670.40" stroke="#f54fd8" stroke-width="1.1" />
<line x1="638.60" y1="660.50" x2="641.80" y2="660.50" stroke="#f54fd8" stroke-width="1.1" />
<line x1="638.60" y1="670.40" x2="641.80" y2="670.40" stroke="#f54fd8" stroke-width="1.1" />
<circle cx="640.20" cy="665.20" r="1.4" fill="#f54fd8"/>
<line x1="651.10" y1="671.50" x2="651.10" y2="677.60" stroke="#f54fd8" stroke-width="1.1" />
<line x1="649.50" y1="671.50" x2="652.70" y2="671.50" stroke="#f54fd8" stroke-width="1.1" />
<line x1="649.50" y1="677.60" x2="652.70" y2="677.60" stroke="#f54fd8" stroke-width="1.1" />
<circle cx="651.10" cy="674.60" r="1.4" fill="#f54fd8"/>
<circle cx="671.50" cy="665.20" r="1.4" fill="#000"/>
<line x1="668.70" y1="669.20" x2="671.70" y2="669.20" stroke="#f54fd8" stroke-width="1.1" />
</svg>
</body></html>
